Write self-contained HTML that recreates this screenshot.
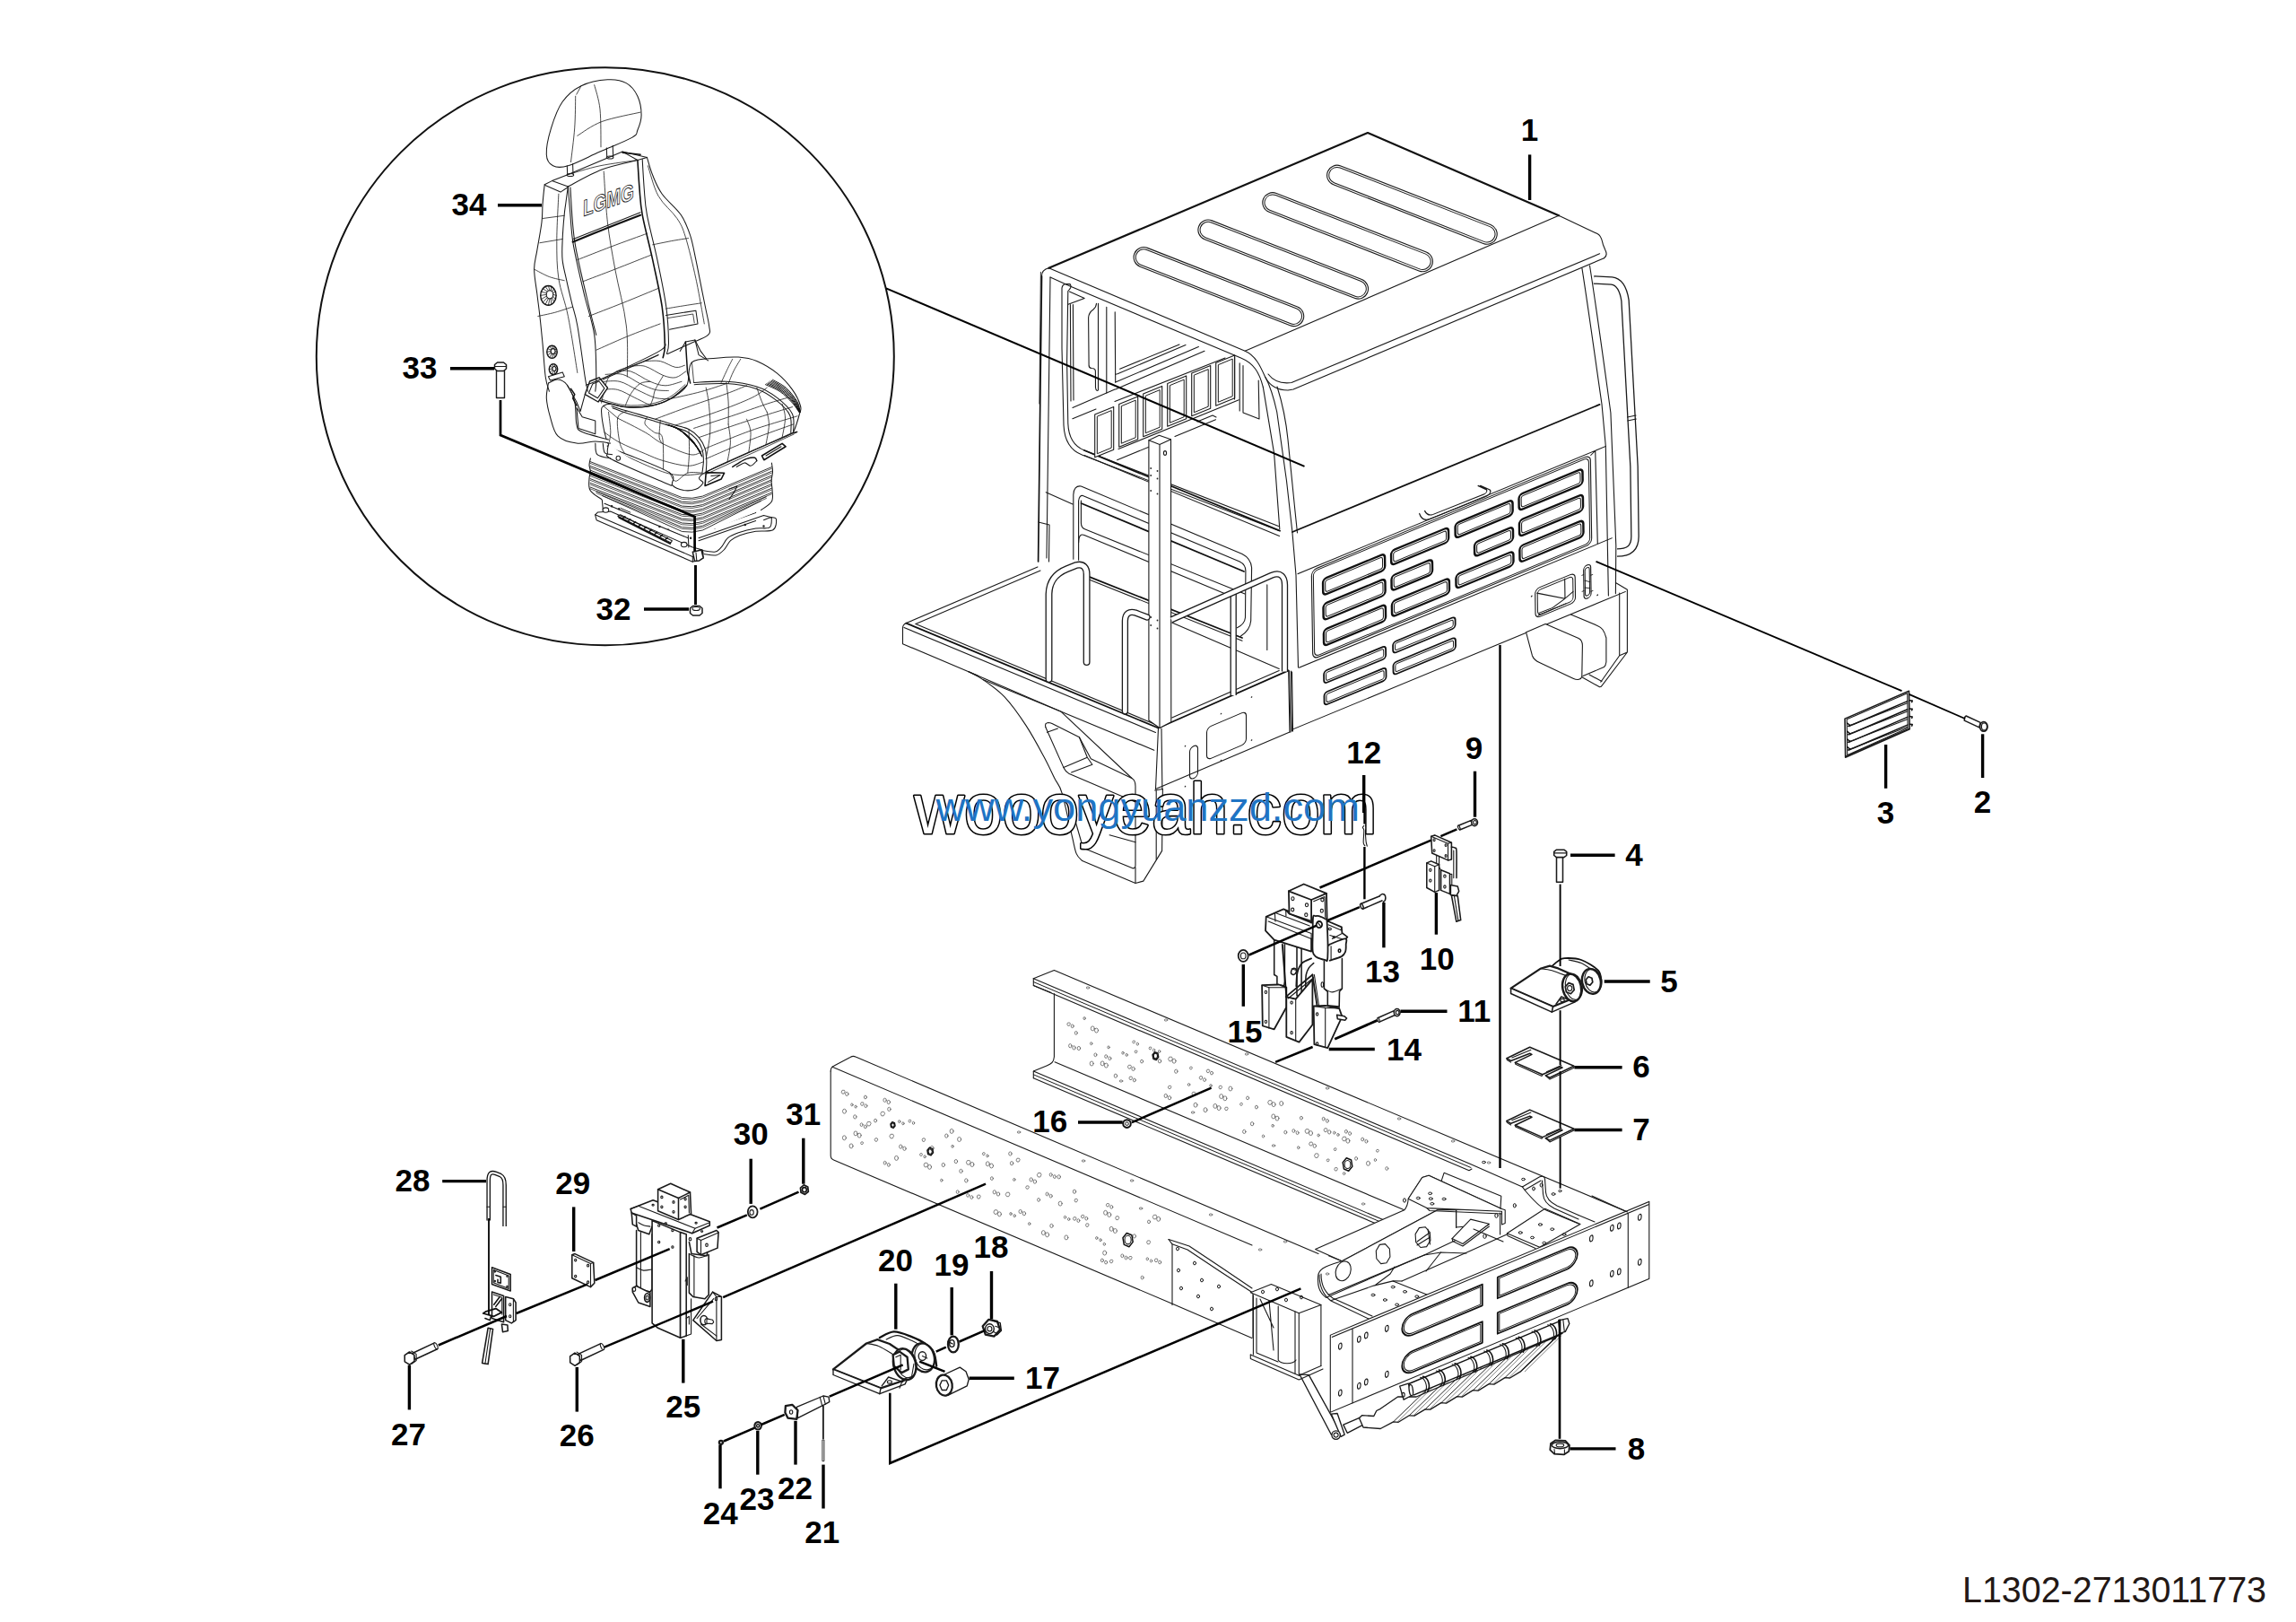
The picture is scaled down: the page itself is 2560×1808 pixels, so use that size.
<!DOCTYPE html>
<html><head><meta charset="utf-8"><title>L1302-2713011773</title>
<style>
html,body{margin:0;padding:0;background:#fff;}
body{width:2560px;height:1808px;overflow:hidden;font-family:"Liberation Sans",sans-serif;}
svg{display:block;position:absolute;left:0;top:0;}
.t{fill:none;stroke:#1a1a1a;stroke-width:1.1;stroke-linecap:round;stroke-linejoin:round;}
.m{fill:none;stroke:#111;stroke-width:1.8;stroke-linecap:round;stroke-linejoin:round;}
.k{fill:none;stroke:#000;stroke-width:3.4;stroke-linecap:butt;stroke-linejoin:miter;}
.w{fill:#fff;stroke:#1a1a1a;stroke-width:1.1;stroke-linecap:round;stroke-linejoin:round;}
.wm{fill:#fff;stroke:#111;stroke-width:1.8;stroke-linecap:round;stroke-linejoin:round;}
.n{font-family:"Liberation Sans",sans-serif;font-weight:700;font-size:35px;fill:#000;text-anchor:middle;}
</style></head><body>
<svg width="2560" height="1808" viewBox="0 0 2560 1808">
<rect x="0" y="0" width="2560" height="1808" fill="#fff"/>
<g id="platform">
<path class="t" d="M1010.4 694.6 L1156.9 631.9"/>
<path class="t" d="M1021 695.5 L1160 636"/>
<path class="m" d="M1010.4 694.6 L1291.5 811.5"/>
<path class="t" d="M1021 695.5 L1287 807"/>
<path class="t" d="M1008 699.5 L1288.5 816.5"/>
<path class="t" d="M1010.4 694.6 C1007 696,1006.5 698,1006.5 700.5 L1006.5 717.7 L1090 753"/>
<path class="m" d="M1291.5 811.5 L1436.7 747.4"/>
<path class="t" d="M1306.7 800 L1426.2 747.4"/>
<path class="t" d="M1291.5 811.5 L1288.5 879.6 M1295 812 L1295.9 879.6"/>
<path class="t" d="M1288.5 879.6 L1438 816"/>
<path class="t" d="M1436.7 747.4 L1438 816 M1439.6 748 L1440.5 815"/>
<g transform="matrix(1 -0.428 0 1 1291.5 811.5)">
<rect class="t" x="35" y="37" width="9" height="36" rx="4.5"/>
<rect class="t" x="54" y="23" width="44" height="36" rx="5"/>
<circle cx="30" cy="33" r="0.8" fill="#222"/>
<circle cx="30" cy="78" r="0.8" fill="#222"/>
<circle cx="70" cy="14" r="0.8" fill="#222"/>
<circle cx="104" cy="10" r="0.8" fill="#222"/>
<circle cx="104" cy="58" r="0.8" fill="#222"/>
<circle cx="70" cy="66" r="0.8" fill="#222"/>
</g>
<path class="t" d="M1080.0 748.8 C1082.7 750.3,1089.3 752.9,1096.0 757.6 C1102.7 762.3,1112.1 768.4,1120.1 776.9 C1128.1 785.4,1136.9 797.9,1144.1 808.9 C1151.3 819.9,1158.1 832.7,1163.4 842.6 C1168.8 852.5,1172.7 861.3,1176.2 868.3 C1179.7 875.2,1181.0 873.6,1184.2 884.3 C1187.4 895.0,1192.7 921.2,1195.4 932.4 C1198.1 943.6,1198.3 947.1,1200.2 951.6 C1202.1 956.1,1205.6 958.3,1206.7 959.6 L1266 984.5 L1274.8 982.1 L1295.6 948.4 L1296.4 879.5"/>
<path class="t" d="M1080 748.8 L1182.6 792.9 L1286.8 836.2"/>
<path class="t" d="M1096 757.6 L1182.6 792.9 L1262 867.5"/>
<path class="t" d="M1165.8 810.5 C1165 807,1166 806,1168.5 805.5 C1171 805.5,1172 806,1173 806.5 L1203.4 821.8 L1216.3 845.8 L1262 867.5 C1265 869,1266 872,1266 876.3 L1266 964.4 C1266 967,1264.5 968.3,1262.8 967.7 L1211.5 946.8 C1209 945.5,1207.5 944,1206.7 942"/>
<path class="t" d="M1165.8 810.5 L1185.8 855.4 C1187.5 859,1189.5 861,1192.2 862.6 L1266 893.9"/>
<path class="t" d="M1167.4 816.2 L1179.4 812.1 M1185.8 855.4 L1212.3 844.2 L1203.4 821.8 M1212.3 844.2 L1217.9 852.2 L1194.6 861"/>
<path class="t" d="M1266 938.8 L1237.1 930.8 M1206.7 942 L1196 905"/>
<path class="t" d="M1287.6 881 L1296.4 879.5 M1289.2 881 L1289.2 958 M1266 984.5 L1266 967"/>
</g>
<g id="cab">
<path class="m" style="stroke-width:2.2" d="M1169.4 298.8 L1525 148 L1738 240.3"/>
<path class="t" d="M1738 240.3 L1388.2 391.3 L1169.4 298.8"/>
<path class="t" d="M1738 240.3 L1781 260.6 C1786 263,1786 268,1787.5 273 L1790 279 C1792 283,1791 286,1788.5 287.7"/>
<path class="t" d="M1388.2 391.3 C1401 397,1406 410,1411 421 C1416 430,1425 435,1436 435 L1442 434 L1788.5 287.7"/>
<path class="t" d="M1414 417 C1420 425,1428 428,1440 426.5 L1783.6 282.8"/>
<path class="t" d="M1169.4 298.8 C1164 300,1161.5 303,1161.5 308"/>
<path class="t" d="M1171 309 L1192.5 318.8 L1383.6 399 C1398 405,1404 415,1408.3 431.3"/>
<g transform="translate(1358.9 319.6) rotate(21.42)"><rect class="t" x="-101.0" y="-11.2" width="202" height="22.4" rx="11.2"/><rect class="t" style="stroke-width:1" x="-98.8" y="-9.0" width="197.6" height="18.0" rx="9.0"/></g>
<g transform="translate(1430.7 289.1) rotate(21.42)"><rect class="t" x="-101.0" y="-11.2" width="202" height="22.4" rx="11.2"/><rect class="t" style="stroke-width:1" x="-98.8" y="-9.0" width="197.6" height="18.0" rx="9.0"/></g>
<g transform="translate(1502.6 258.7) rotate(21.42)"><rect class="t" x="-101.0" y="-11.2" width="202" height="22.4" rx="11.2"/><rect class="t" style="stroke-width:1" x="-98.8" y="-9.0" width="197.6" height="18.0" rx="9.0"/></g>
<g transform="translate(1574.4 228.2) rotate(21.42)"><rect class="t" x="-101.0" y="-11.2" width="202" height="22.4" rx="11.2"/><rect class="t" style="stroke-width:1" x="-98.8" y="-9.0" width="197.6" height="18.0" rx="9.0"/></g>
<path class="m" style="stroke-width:1.7" d="M1161.5 308 L1157.6 626"/>
<path class="t" style="stroke-width:0.9" d="M1160.4 303.3 L1158.9 450"/>
<path class="t" d="M1171 309 L1167 622"/>
<path class="t" d="M1157.8 582 L1170 585 L1169.5 626"/>
<path class="t" d="M1192.9 316.6 L1187.5 316.6 C1185 317.5,1184.3 319,1184 321 L1184 388 L1186 474 C1187 495,1196 503,1206.4 507 L1426 591.5"/>
<path class="t" d="M1192.9 316.6 C1194.5 318.5,1194.5 320.5,1192.5 322.5 L1190.8 324.5 L1189.6 403 L1190.8 472 C1191.5 490,1199 498,1209 502 L1425.5 586.5"/>
<path class="t" d="M1408.3 431.3 L1420.6 505.3 L1426.8 589.8"/>
<path class="t" d="M1411 420.6 C1417 432,1421 447,1423.7 459 L1434.5 536 L1440.8 592 L1445 641 L1447.5 744"/>
<path class="t" d="M1424 431 C1430 450,1434 470,1436 490 L1443.7 567 L1446.5 594"/>
<path class="m" d="M1441 593 L1783.5 450.9"/>
<path class="t" d="M1763.9 298.8 C1772 350,1780 410,1786 450.5 L1790.3 497 L1793.4 664"/>
<path class="t" d="M1772.5 296 C1781 350,1789 410,1795.9 460 L1801.8 608 L1801.4 661.6"/>
<g transform="matrix(1 -0.414 0.015 1 1443 592)">
<path class="t" d="M3.3 49 L346.5 49 M3.3 153.5 L352 153.5 M330 52 L335 49 M335 49 L336 153.5"/>
<rect class="t"  x="18.5" y="51.5" width="311.0" height="99.0" rx="6"/>
<rect class="t" style="stroke-width:1" x="20.5" y="53.5" width="307.0" height="95.0" rx="5"/>
<rect class="m" style="stroke-width:2.4" x="31" y="66.5" width="69.0" height="18.0" rx="4"/>
<rect class="t" style="stroke-width:1" x="33.6" y="69.1" width="63.8" height="12.8" rx="2.5"/>
<rect class="m" style="stroke-width:2.4" x="31" y="94.3" width="69.0" height="18.1" rx="4"/>
<rect class="t" style="stroke-width:1" x="33.6" y="96.89999999999999" width="63.8" height="12.9" rx="2.5"/>
<rect class="m" style="stroke-width:2.4" x="31" y="123" width="69.0" height="18.0" rx="4"/>
<rect class="t" style="stroke-width:1" x="33.6" y="125.6" width="63.8" height="12.8" rx="2.5"/>
<rect class="m" style="stroke-width:2.4" x="107" y="66.5" width="64.0" height="16.0" rx="4"/>
<rect class="t" style="stroke-width:1" x="109.6" y="69.1" width="58.8" height="10.8" rx="2.5"/>
<rect class="m" style="stroke-width:2.4" x="107" y="94.3" width="45.5" height="16.7" rx="4"/>
<rect class="t" style="stroke-width:1" x="109.6" y="96.89999999999999" width="40.3" height="11.5" rx="2.5"/>
<rect class="m" style="stroke-width:2.4" x="107" y="123" width="64.0" height="17.0" rx="4"/>
<rect class="t" style="stroke-width:1" x="109.6" y="125.6" width="58.8" height="11.8" rx="2.5"/>
<rect class="m" style="stroke-width:2.4" x="178.5" y="65.5" width="64.0" height="16.5" rx="4"/>
<rect class="t" style="stroke-width:1" x="181.1" y="68.1" width="58.8" height="11.3" rx="2.5"/>
<rect class="m" style="stroke-width:2.4" x="199.5" y="95.5" width="43.0" height="15.7" rx="4"/>
<rect class="t" style="stroke-width:1" x="202.1" y="98.1" width="37.8" height="10.5" rx="2.5"/>
<rect class="m" style="stroke-width:2.4" x="178.5" y="122.6" width="64.0" height="15.6" rx="4"/>
<rect class="t" style="stroke-width:1" x="181.1" y="125.19999999999999" width="58.8" height="10.4" rx="2.5"/>
<rect class="m" style="stroke-width:2.4" x="249.5" y="63" width="71.0" height="17.5" rx="4"/>
<rect class="t" style="stroke-width:1" x="252.1" y="65.6" width="65.8" height="12.3" rx="2.5"/>
<rect class="m" style="stroke-width:2.4" x="249.5" y="91.5" width="71.0" height="18.0" rx="4"/>
<rect class="t" style="stroke-width:1" x="252.1" y="94.1" width="65.8" height="12.8" rx="2.5"/>
<rect class="m" style="stroke-width:2.4" x="249.5" y="120.3" width="71.0" height="18.0" rx="4"/>
<rect class="t" style="stroke-width:1" x="252.1" y="122.89999999999999" width="65.8" height="12.8" rx="2.5"/>
<rect class="m" style="stroke-width:1.8" x="30.5" y="169" width="69.0" height="13.8" rx="3.5"/>
<rect class="t" style="stroke-width:1" x="32.9" y="171.4" width="64.2" height="9.0" rx="2"/>
<rect class="m" style="stroke-width:1.8" x="30.5" y="193" width="69.0" height="14.0" rx="3.5"/>
<rect class="t" style="stroke-width:1" x="32.9" y="195.4" width="64.2" height="9.2" rx="2"/>
<rect class="m" style="stroke-width:1.8" x="107.5" y="168.5" width="69.5" height="12.5" rx="3.5"/>
<rect class="t" style="stroke-width:1" x="109.9" y="170.9" width="64.7" height="7.7" rx="2"/>
<rect class="m" style="stroke-width:1.8" x="107.5" y="191.5" width="69.5" height="13.5" rx="3.5"/>
<rect class="t" style="stroke-width:1" x="109.9" y="193.9" width="64.7" height="8.7" rx="2"/>
<rect class="t"  x="266" y="175" width="44.5" height="32.5" rx="5"/>
<rect class="t" style="stroke-width:1" x="268.5" y="177.5" width="39.5" height="27.5" rx="4"/>
<path class="t" d="M268 180 L299 199 M299 177 L299 199 L308 195 M270 203 L285 203.5 L299 199 M269 205.5 L300 205"/>
<rect class="t"  x="320" y="172" width="8.0" height="37.0" rx="4"/>
<rect class="t" style="stroke-width:1" x="321.5" y="175" width="5.0" height="31.0" rx="2.5"/>
<path class="t" style="stroke-width:0.9" d="M321 188 L327 192 M321 196 L327 199"/>
<circle cx="262" cy="181" r="0.9" fill="#222"/>
<circle cx="262" cy="221" r="0.9" fill="#222"/>
<circle cx="335" cy="210" r="0.9" fill="#222"/>
<path class="t" d="M-5 219 L366 219"/>
<path class="t" d="M139 38 C141 45,145 48.5,150 48.7 L212 49.8 C217 49.8,219.5 47,217.5 44 L207 35 M145 37.5 C147 42,150 45,154 45.2 L211 46.2 C214 46.2,215 44,213.5 42 L204.5 34"/>
<path class="t" style="stroke-width:0.9" d="M320 181 L318 181 M320 199 L318 199 M328 185 L330 185 M328 203 L330 203"/>
</g>
<path class="t" d="M1437.6 748 L1439 816 M1440.5 749 L1441.5 815"/>
<path class="t" d="M1801.4 649.5 L1814.4 657.3 L1814.4 727 L1785.4 765.2 L1783.5 765.8 L1763.8 754.7 M1805.7 661 L1805.7 730.7 L1784.8 760.2 M1805.7 730.7 L1814.4 727 M1772 752 L1786 759.5"/>
<path d="M1751.5 685.1 L1781.1 697.4 C1786 699.5,1788.5 702.3,1790.9 711 L1790.9 738 C1790.5 741,1790 742.5,1788.5 743.6 L1765 753.5 L1760 712 Z" fill="#fff" stroke="none"/>
<path class="t" d="M1751.5 685.1 L1781.1 697.4 C1786 699.5,1788.5 702.3,1790.9 711 L1790.9 738 C1790.5 741,1790 742.5,1788.5 743.6 L1765 753.5"/>
<path class="w" d="M1701.6 704.8 L1708.4 730.7 C1710 735,1713 737,1717 738.7 L1754 756.2 C1759 758.5,1763 757.5,1763.8 754.1 L1764.4 719.6 C1764.3 715,1763 713,1760.1 711.6 L1723.1 695.5 Z"/>
<path d="M1777 312 L1797 313 C1806 314,1810 322,1812 335 L1822 520 L1823 598 C1823 612,1815 616,1803 616" fill="none" stroke="#1a1a1a" stroke-width="9.6" stroke-linecap="butt" stroke-linejoin="round"/>
<path d="M1777 312 L1797 313 C1806 314,1810 322,1812 335 L1822 520 L1823 598 C1823 612,1815 616,1803 616" fill="none" stroke="#fff" stroke-width="7" stroke-linecap="butt" stroke-linejoin="round"/>
<path class="t" d="M1814.5 465 L1824 463 M1814.8 469 L1824.3 467"/>
</g>
<g id="cabfront">
<path class="t" d="M1196.8 623.2 L1196.8 551.5 C1197 545,1200 541,1205.4 542 L1385 617.5 C1392 621,1395 626,1395.6 632.8 L1394.7 692 C1394 700,1390 705,1383.2 709.2"/>
<path class="t" d="M1202.6 624.2 L1202.6 558.2 C1203 554,1205 552,1207.3 552.5 L1382.2 626 C1387 628.5,1389 632,1388.9 636.6 L1388.5 688.2 C1388 694,1385 697,1379.4 699.7"/>
<path class="m" d="M1205.5 561 L1387 637"/>
<path class="t" d="M1205.4 558 L1205.4 583 C1205.5 587,1207 589,1210 590 L1388 662"/>
<path class="t" d="M1202.6 605 C1202.8 597,1205 595,1209 596.5 L1376 666"/>
<path class="t" d="M1166.2 548.7 L1196 562"/>
<path class="m" d="M1209 502 L1427 591.7"/>
<path class="t" d="M1209 507.5 L1426.5 597.5"/>
<path class="m" d="M1213 642.3 L1385 711"/>
<path class="t" d="M1213 645.5 L1385 714.2"/>
<path class="t" d="M1306.7 694 L1426.2 745.5"/>
<path class="t" d="M1412.8 651.9 L1412.8 724.5"/>
</g>
<g id="cab2">
<path class="t" d="M1193.4 339.5 L1194 447 M1196.4 339.5 L1197 446"/>
<path class="t" d="M1192.4 325 L1209.2 332.4 L1191 339.3"/>
<path class="t" d="M1222.5 338.3 C1222.3 342,1221.5 343,1219 345 C1215.5 347.5,1213.8 350,1213.6 354.1 L1214.1 407.4 C1214.2 409.5,1215 410.2,1217 410.5 L1219 410.7 C1221 411,1221.4 412,1221.4 414 L1221.5 432 C1221.6 434,1222.3 435,1223.5 435.5"/>
<path class="t" d="M1224.5 338.3 L1224.5 435 M1233.8 342.3 L1233.8 438 M1243.2 347.7 L1243.7 426.1"/>
<path class="t" d="M1243.7 426.1 L1336.4 386.5 M1243.7 417.2 L1246 416.8 L1322 384.5 M1248.6 411.3 L1315 384"/>
<path class="t" d="M1195.9 454.4 L1243 434 M1195.9 466.8 L1222 456 M1243 447.5 L1366 399 M1243.7 434 L1343 391.3"/>
<path class="w" d="M1220.7 462.0 L1241.7 453.4 L1241.7 501.2 L1220.7 509.8 Z"/>
<path class="t" style="stroke-width:1" d="M1223.7 464.0 L1239.2 457.6 L1239.2 499.2 L1223.7 505.6 Z"/>
<path class="w" d="M1247.7 450.5 L1268.7 441.9 L1268.7 489.7 L1247.7 498.3 Z"/>
<path class="t" style="stroke-width:1" d="M1250.7 452.5 L1266.2 446.1 L1266.2 487.7 L1250.7 494.1 Z"/>
<path class="w" d="M1274.7 439.0 L1295.7 430.4 L1295.7 478.2 L1274.7 486.8 Z"/>
<path class="t" style="stroke-width:1" d="M1277.7 441.0 L1293.2 434.6 L1293.2 476.2 L1277.7 482.6 Z"/>
<path class="w" d="M1301.7 427.5 L1322.7 418.9 L1322.7 466.7 L1301.7 475.3 Z"/>
<path class="t" style="stroke-width:1" d="M1304.7 429.5 L1320.2 423.1 L1320.2 464.7 L1304.7 471.1 Z"/>
<path class="w" d="M1328.7 416.0 L1349.7 407.4 L1349.7 455.2 L1328.7 463.8 Z"/>
<path class="t" style="stroke-width:1" d="M1331.7 418.0 L1347.2 411.6 L1347.2 453.2 L1331.7 459.6 Z"/>
<path class="w" d="M1355.7 404.5 L1376.7 395.9 L1376.7 443.7 L1355.7 452.3 Z"/>
<path class="t" style="stroke-width:1" d="M1358.7 406.5 L1374.2 400.1 L1374.2 441.7 L1358.7 448.1 Z"/>
<path class="t" d="M1247 500.5 L1381.3 445.8 M1245.6 512.7 L1290 494.6 M1310 486.5 L1355.5 467.7 M1335 470 L1352 463 L1356 465"/>
<path class="t" d="M1376.5 398 L1376.5 445 M1382.2 404.7 L1382.2 458 M1386 407.5 L1386 460 L1404 467 M1403.2 424 L1404 467"/>
<path class="w" d="M1280.9 490.7 L1292.4 485.3 L1305.5 489.7 L1305.8 804.8 L1293 811.5 L1280.9 803 Z"/>
<path class="t" d="M1280.9 490.7 L1293 495.5 L1305.5 489.7 M1293 495.5 L1293 811.5"/>
<ellipse class="t" cx="1299" cy="505" rx="1.6" ry="2.4"/>
<circle cx="1283.2" cy="522" r="0.9" fill="#222"/>
<circle cx="1290.5" cy="525" r="0.9" fill="#222"/>
<circle cx="1283.2" cy="530" r="0.9" fill="#222"/>
<circle cx="1290.5" cy="533.5" r="0.9" fill="#222"/>
<circle cx="1283.2" cy="547" r="0.9" fill="#222"/>
<circle cx="1290.5" cy="550.5" r="0.9" fill="#222"/>
<circle cx="1283.2" cy="688" r="0.9" fill="#222"/>
<circle cx="1290.5" cy="691.5" r="0.9" fill="#222"/>
<circle cx="1283.2" cy="697" r="0.9" fill="#222"/>
<circle cx="1290.5" cy="700.5" r="0.9" fill="#222"/>
</g>
<g id="rails">
<path d="M1169.5 757 L1169.5 662 C1170 645,1180 638,1190 634 L1200 630 C1208 628,1211.6 633,1211.6 640 L1211.6 738" fill="none" stroke="#1a1a1a" stroke-width="7.8999999999999995" stroke-linecap="round" stroke-linejoin="round"/>
<path d="M1169.5 757 L1169.5 662 C1170 645,1180 638,1190 634 L1200 630 C1208 628,1211.6 633,1211.6 640 L1211.6 738" fill="none" stroke="#fff" stroke-width="5.3" stroke-linecap="round" stroke-linejoin="round"/>
<path d="M1254.4 793 L1254.4 692 C1254.5 684,1259 681,1266 683 L1279 688" fill="none" stroke="#1a1a1a" stroke-width="7.3" stroke-linecap="round" stroke-linejoin="round"/>
<path d="M1254.4 793 L1254.4 692 C1254.5 684,1259 681,1266 683 L1279 688" fill="none" stroke="#fff" stroke-width="4.7" stroke-linecap="round" stroke-linejoin="round"/>
</g>
<g id="rails3">
<path d="M1375.2 660 L1375.2 775" fill="none" stroke="#1a1a1a" stroke-width="7.3" stroke-linecap="butt" stroke-linejoin="round"/>
<path d="M1375.2 660 L1375.2 775" fill="none" stroke="#fff" stroke-width="4.7" stroke-linecap="butt" stroke-linejoin="round"/>
<path d="M1306 690.8 L1417.6 641.4 C1428 637,1432.5 643,1432.5 652 L1432.5 748.5" fill="none" stroke="#1a1a1a" stroke-width="7.3" stroke-linecap="butt" stroke-linejoin="round"/>
<path d="M1306 690.8 L1417.6 641.4 C1428 637,1432.5 643,1432.5 652 L1432.5 748.5" fill="none" stroke="#fff" stroke-width="4.7" stroke-linecap="butt" stroke-linejoin="round"/>
</g>
<g id="steps">
<path class="w" style="stroke-width:1.35" d="M1448.9 1531.8 L1459.3 1532.6 L1494.1 1595.5 L1484.4 1599.2 Z"/>
<path class="w" style="stroke-width:1.35" d="M1484.4 1576.2 L1491.1 1575.5 L1499.2 1599.2 L1495.1 1601.4 Z"/>
<ellipse class="w" style="stroke-width:1.35" cx="1489.6" cy="1599.6" rx="4.7" ry="4.7" transform="rotate(0 1489.6 1599.6)"/>
<ellipse class="t"  cx="1489.6" cy="1599.6" rx="2.5" ry="2.5" transform="rotate(0 1489.6 1599.6)"/>
<path class="w" style="stroke-width:1.35" d="M1497.8 1588.1 L1517.0 1579.9 L1522.9 1586.6 L1502.2 1597.3 Z"/>
<ellipse class="w" style="stroke-width:1.35" cx="1520.3" cy="1583.6" rx="2.7" ry="4.1" transform="rotate(-20 1520.3 1583.6)"/>
<path class="w" style="stroke-width:1.35" d="M1515.5 1580.7 L1520.0 1591.0 L1539.2 1592.5 L1553.6 1584.8 L1559.2 1585.3 L1571.3 1577.8 L1577.0 1578.2 L1589.1 1570.8 L1594.7 1571.2 L1606.9 1563.7 L1612.5 1564.2 L1624.7 1556.7 L1630.3 1557.1 L1642.4 1549.7 L1648.1 1550.1 L1660.2 1542.6 L1665.8 1543.1 L1678.0 1535.6 L1683.6 1536.0 L1695.7 1528.6 L1737.6 1488.1 L1737.6 1488.9 L1579.2 1557.0 L1558.5 1557.0 L1539.2 1570.3 L1534.8 1572.5 L1531.8 1578.5 L1518.5 1577.7 Z"/>
<path class="t" style="stroke-width:0.95" d="M1595.5 1544.4 L1553.6 1584.8"/>
<path class="t" style="stroke-width:0.7;stroke:#555" d="M1598.7 1545.0 L1558.0 1585.1"/>
<path class="t" style="stroke-width:0.95" d="M1613.3 1537.4 L1571.3 1577.8"/>
<path class="t" style="stroke-width:0.7;stroke:#555" d="M1616.5 1538.0 L1575.8 1578.1"/>
<path class="t" style="stroke-width:0.95" d="M1631.0 1530.3 L1589.1 1570.8"/>
<path class="t" style="stroke-width:0.7;stroke:#555" d="M1634.3 1530.9 L1593.6 1571.1"/>
<path class="t" style="stroke-width:0.95" d="M1648.8 1523.3 L1606.9 1563.7"/>
<path class="t" style="stroke-width:0.7;stroke:#555" d="M1652.1 1523.9 L1611.3 1564.0"/>
<path class="t" style="stroke-width:0.95" d="M1666.6 1516.3 L1624.7 1556.7"/>
<path class="t" style="stroke-width:0.7;stroke:#555" d="M1669.8 1516.9 L1629.1 1557.0"/>
<path class="t" style="stroke-width:0.95" d="M1684.3 1509.2 L1642.4 1549.7"/>
<path class="t" style="stroke-width:0.7;stroke:#555" d="M1687.6 1509.8 L1646.9 1550.0"/>
<path class="t" style="stroke-width:0.95" d="M1702.1 1502.2 L1660.2 1542.6"/>
<path class="t" style="stroke-width:0.7;stroke:#555" d="M1705.4 1502.8 L1664.6 1542.9"/>
<path class="t" style="stroke-width:0.95" d="M1719.9 1495.2 L1678.0 1535.6"/>
<path class="t" style="stroke-width:0.7;stroke:#555" d="M1723.1 1495.8 L1682.4 1535.9"/>
<path class="t" style="stroke-width:0.95" d="M1737.6 1488.1 L1695.7 1528.6"/>
<path class="t" style="stroke-width:0.7;stroke:#555" d="M1740.9 1488.7 L1700.2 1528.8"/>
<path d="M1573.3 1548.8 L1739.9 1479.7" fill="none" stroke="#111" stroke-width="15" stroke-linecap="butt"/>
<path d="M1573.3 1548.8 L1739.9 1479.7" fill="none" stroke="#fff" stroke-width="12.2" stroke-linecap="butt"/>
<path class="m" style="stroke-width:1.6" d="M1586.6 1534.3 C1592.6 1535.6,1595.6 1545.6,1591.6 1551.2"/>
<path class="t" d="M1583.6 1535.3 C1589.6 1536.6,1592.6 1546.6,1588.6 1552.2"/>
<path class="m" style="stroke-width:1.6" d="M1604.4 1527.0 C1610.4 1528.3,1613.4 1538.3,1609.4 1543.9"/>
<path class="t" d="M1601.4 1528.0 C1607.4 1529.3,1610.4 1539.3,1606.4 1544.9"/>
<path class="m" style="stroke-width:1.6" d="M1622.1 1519.7 C1628.1 1521.0,1631.1 1531.0,1627.1 1536.6"/>
<path class="t" d="M1619.1 1520.7 C1625.1 1522.0,1628.1 1532.0,1624.1 1537.6"/>
<path class="m" style="stroke-width:1.6" d="M1639.9 1512.3 C1645.9 1513.6,1648.9 1523.6,1644.9 1529.2"/>
<path class="t" d="M1636.9 1513.3 C1642.9 1514.6,1645.9 1524.6,1641.9 1530.2"/>
<path class="m" style="stroke-width:1.6" d="M1657.7 1505.0 C1663.7 1506.3,1666.7 1516.3,1662.7 1521.9"/>
<path class="t" d="M1654.7 1506.0 C1660.7 1507.3,1663.7 1517.3,1659.7 1522.9"/>
<path class="m" style="stroke-width:1.6" d="M1675.4 1497.7 C1681.4 1499.0,1684.4 1509.0,1680.4 1514.6"/>
<path class="t" d="M1672.4 1498.7 C1678.4 1500.0,1681.4 1510.0,1677.4 1515.6"/>
<path class="m" style="stroke-width:1.6" d="M1693.2 1490.3 C1699.2 1491.6,1702.2 1501.6,1698.2 1507.2"/>
<path class="t" d="M1690.2 1491.3 C1696.2 1492.6,1699.2 1502.6,1695.2 1508.2"/>
<path class="m" style="stroke-width:1.6" d="M1711.0 1483.0 C1717.0 1484.3,1720.0 1494.3,1716.0 1499.9"/>
<path class="t" d="M1708.0 1484.0 C1714.0 1485.3,1717.0 1495.3,1713.0 1500.9"/>
<path class="m" style="stroke-width:1.6" d="M1728.7 1475.7 C1734.7 1477.0,1737.7 1487.0,1733.7 1492.6"/>
<path class="t" d="M1725.7 1476.7 C1731.7 1478.0,1734.7 1488.0,1730.7 1493.6"/>
<path class="w" style="stroke-width:1.35" d="M1560.7 1545.1 L1570.3 1542.2 L1574.0 1555.5 L1565.1 1560.2 Z"/>
<ellipse class="t"  cx="1564.7" cy="1554.8" rx="1.5" ry="2.4" transform="rotate(0 1564.7 1554.8)"/>
<ellipse class="w" style="stroke-width:1.35" cx="1573.3" cy="1549.6" rx="2.1" ry="6.2" transform="rotate(-8 1573.3 1549.6)"/>
<path class="w" style="stroke-width:1.35" d="M1737.6 1471.8 L1748.0 1469.6 L1749.8 1475.5 L1745.3 1484.4 L1739.4 1486.2 Z"/>
<path class="t"  d="M1742.8 1470.8 L1744.3 1484.4"/>
</g>
<g id="frame">
<path class="t"  d="M1152.3 1090.8 L1175.4 1081.6 L1814.6 1351.0"/>
<path class="t"  d="M1152.3 1090.8 L1638.3 1297.1 L1697.4 1322.9"/>
<path class="t" style="stroke-width:1" d="M1152.3 1094.5 L1640.0 1301.5"/>
<path class="t"  d="M1152.3 1098.5 L1638.0 1304.7 L1641.0 1303.0"/>
<path class="t"  d="M1152.3 1090.8 L1152.3 1098.5 L1172.0 1106.5"/>
<path class="t" d="M1175.4 1107.5 L1175.4 1178 C1175 1184,1172 1186,1167 1188 L1152.3 1194.1 L1152.3 1201.8"/>
<path class="t"  d="M1152.3 1194.1 L1543.8 1360.3"/>
<path class="t" style="stroke-width:1" d="M1152.3 1197.8 L1542.0 1363.2"/>
<path class="t"  d="M1152.3 1201.8 L1540.7 1366.7"/>
<path class="t"  d="M1176.0 1183.8 L1565.8 1348.8"/>
<path class="t" d="M926.2 1194 C926.2 1191,927.5 1189,930 1188 L948 1178.5 C950 1177.3,952 1177,954 1178 L1470 1397.5"/>
<path class="t"  d="M928.0 1189.3 L1396.0 1388.0"/>
<path class="t" d="M926.2 1194 L926.2 1288 C926.2 1291,927 1292,929.5 1293 L1306.5 1453 L1395.9 1491.6"/>
<path class="t"  d="M1303.0 1381.5 L1307.0 1386.8 L1307.0 1454.6"/>
<path class="t"  d="M1303.0 1381.5 L1326.0 1389.0 L1362.0 1413.0 L1396.0 1436.0"/>
<path class="t"  d="M1307.0 1386.8 L1324.0 1393.0 L1360.0 1417.0 L1396.0 1440.5"/>
<path class="t"  d="M1397.0 1441.0 L1397.0 1491.0"/>
<path class="w"  d="M1394.3 1440.7 L1417.4 1431.5 L1472.9 1454.6 L1448.3 1463.8 Z"/>
<path class="t"  d="M1397.4 1443.8 L1397.4 1510.0"/>
<path class="t"  d="M1394.3 1510.0 L1448.3 1533.2 L1472.9 1522.4"/>
<path class="t"  d="M1394.3 1510.0 L1394.3 1514.5 L1448.3 1538.0 L1475.0 1526.0"/>
<path class="t"  d="M1448.3 1463.8 L1448.3 1533.2"/>
<path class="t"  d="M1444.0 1462.0 L1444.0 1531.0"/>
<path class="t"  d="M1472.9 1454.6 L1472.9 1522.4"/>
<path class="t" d="M1425.2 1456 L1425.2 1516 C1428 1521,1442 1521,1445 1516 M1415 1450 L1420 1505 M1405 1448 L1420 1480"/>
<path class="t"  d="M1401.0 1447.0 L1401.0 1508.0 L1425.0 1518.0"/>
<ellipse class="t" style="stroke-width:1" cx="1313" cy="1392" rx="1.5" ry="1.9"/>
<ellipse class="t" style="stroke-width:1" cx="1314" cy="1416" rx="1.5" ry="1.9"/>
<ellipse class="t" style="stroke-width:1" cx="1317" cy="1436" rx="1.5" ry="1.9"/>
<ellipse class="t" style="stroke-width:1" cx="1332" cy="1408" rx="1.5" ry="1.9"/>
<ellipse class="t" style="stroke-width:1" cx="1336" cy="1445" rx="1.5" ry="1.9"/>
<ellipse class="t" style="stroke-width:1" cx="1359" cy="1434" rx="1.5" ry="1.9"/>
<ellipse class="t" style="stroke-width:1" cx="1351" cy="1459" rx="1.5" ry="1.9"/>
<ellipse class="t" style="stroke-width:1" cx="1340" cy="1427" rx="1.5" ry="1.9"/>
<ellipse class="t" style="stroke-width:1" cx="1408" cy="1440" rx="1.5" ry="1.9"/>
<ellipse class="t" style="stroke-width:1" cx="1424" cy="1437" rx="1.5" ry="1.9"/>
<ellipse class="t" style="stroke-width:1" cx="1434" cy="1449" rx="1.5" ry="1.9"/>
<ellipse class="t" style="stroke-width:1" cx="1451" cy="1446" rx="1.5" ry="1.9"/>
<path class="w" d="M1466.6 1392.4 L1565.8 1348.8 C1569 1345,1570 1340,1570.2 1336.2 L1585.7 1312.5 L1593.1 1310.3 L1673.8 1347.3 L1602.7 1348.8 L1496.2 1405.7 Z"/>
<path class="w" d="M1496.2 1405.7 L1602.7 1348.8 L1623.6 1348.8 L1623.6 1368 L1660 1365 L1588 1399 L1478.5 1446.4 C1470 1440,1469 1432,1469.6 1422.7 C1470 1415,1475 1412,1496.2 1405.7 Z"/>
<path class="t" d="M1481.4 1399.8 L1496.2 1405.7 M1473 1420 C1473 1434,1478 1441,1486 1447 L1530 1467 M1471 1421 C1471 1436,1476 1444,1484 1450 L1526 1470"/>
<ellipse class="w" cx="1497.7" cy="1416.8" rx="8.2" ry="11.2" transform="rotate(20 1497.7 1416.8)"/>
<path class="w"  d="M1549.9 1401.0 L1545.9 1407.8 L1539.7 1408.6 L1534.8 1403.0 L1534.3 1394.2 L1538.3 1387.4 L1544.5 1386.6 L1549.4 1392.2 Z"/>
<path class="w"  d="M1594.9 1382.6 L1590.6 1389.6 L1583.9 1390.5 L1578.7 1384.7 L1578.1 1375.6 L1582.4 1368.6 L1589.1 1367.7 L1594.3 1373.5 Z"/>
<path class="t" d="M1580 1384 L1594 1374 M1580 1388 L1594.5 1379 M1592 1370 L1594.5 1387"/>
<path class="t"  d="M1481.0 1443.5 L1588.0 1399.0"/>
<path class="t"  d="M1534.0 1432.0 L1550.0 1420.0 L1555.0 1412.0"/>
<path class="t"  d="M1588.0 1399.0 L1606.5 1396.0 L1635.0 1397.0"/>
<path class="t"  d="M1606.5 1396.0 L1590.0 1417.0"/>
<path class="t"  d="M1563.0 1428.0 L1640.0 1394.0 L1680.0 1376.0"/>
<path class="w" d="M1570.2 1336.2 L1585.7 1312.5 L1593.1 1310.3 L1673.8 1347.3 L1678.2 1348.8 L1678.2 1363.6 L1674.5 1365 L1674.5 1350.2 L1590.9 1346.6 Z"/>
<path class="t"  d="M1590.9 1346.6 L1594.0 1349.5 L1674.5 1353.0"/>
<path class="t"  d="M1607.2 1316.2 L1610.1 1307.3 L1673.8 1333.2 L1673.0 1347.3"/>
<path class="t"  d="M1672.6 1352.0 L1672.6 1376.0"/>
<path class="t"  d="M1623.6 1349.0 L1623.6 1368.5"/>
<ellipse class="t" style="stroke-width:1" cx="1581.3" cy="1335.5" rx="2" ry="1.3"/>
<ellipse class="t" style="stroke-width:1" cx="1594.6" cy="1330.3" rx="2" ry="1.3"/>
<ellipse class="t" style="stroke-width:1" cx="1595.3" cy="1336.2" rx="2" ry="1.3"/>
<ellipse class="t" style="stroke-width:1" cx="1610.1" cy="1336.5" rx="2" ry="1.3"/>
<ellipse class="t" style="stroke-width:1" cx="1596.8" cy="1341.8" rx="2" ry="1.3"/>
<ellipse class="t" style="stroke-width:1" cx="1668.5" cy="1355" rx="1.7" ry="2.4"/>
<ellipse class="t" style="stroke-width:1" cx="1655.5" cy="1378" rx="1.7" ry="2.4"/>
<ellipse class="t" style="stroke-width:1" cx="1688.8" cy="1343.8" rx="1.5" ry="2.2"/>
<ellipse class="t" style="stroke-width:1" cx="1566" cy="1338" rx="1.5" ry="2.2"/>
<path class="w"  d="M1619.0 1380.6 L1639.7 1359.1 L1660.4 1364.3 L1630.9 1386.5 Z"/>
<path class="t"  d="M1619.0 1380.6 L1619.8 1383.5 L1630.9 1389.0 L1660.4 1367.0"/>
<path class="t"  d="M1643.0 1370.0 L1676.0 1384.0"/>
<path class="w"  d="M1680.4 1374.7 L1722.6 1347.3 L1762.0 1364.5 L1716.7 1390.2 Z"/>
<path class="t"  d="M1680.4 1374.7 L1681.0 1377.5 L1712.0 1391.5"/>
<ellipse class="t" style="stroke-width:1" cx="1695.2" cy="1374" rx="2" ry="1.3"/>
<ellipse class="t" style="stroke-width:1" cx="1708.5" cy="1379.5" rx="2" ry="1.3"/>
<ellipse class="t" style="stroke-width:1" cx="1717.4" cy="1365" rx="2" ry="1.3"/>
<ellipse class="t" style="stroke-width:1" cx="1730.7" cy="1370.2" rx="2" ry="1.3"/>
<ellipse class="t" style="stroke-width:1" cx="1721.8" cy="1385.5" rx="2" ry="1.3"/>
<ellipse class="t" style="stroke-width:1" cx="1744" cy="1376" rx="2" ry="1.3"/>
<path class="t"  d="M1484.4 1449.4 L1531.7 1433.1 L1553.2 1427.9 L1593.9 1444.2"/>
<path class="t"  d="M1553.2 1427.9 L1563.0 1428.0"/>
<ellipse class="t" style="stroke-width:1" cx="1553.2" cy="1434.6" rx="2" ry="1.3"/>
<ellipse class="t" style="stroke-width:1" cx="1566.5" cy="1439.8" rx="2" ry="1.3"/>
<ellipse class="t" style="stroke-width:1" cx="1531" cy="1443.5" rx="2" ry="1.3"/>
<ellipse class="t" style="stroke-width:1" cx="1544.3" cy="1449" rx="2" ry="1.3"/>
<ellipse class="t" style="stroke-width:1" cx="1579.8" cy="1445.2" rx="2" ry="1.3"/>
<ellipse class="t" style="stroke-width:1" cx="1557.6" cy="1454.3" rx="2" ry="1.3"/>
<path class="t" d="M1697.4 1322.9 L1716.7 1311.8 C1720 1310.5,1722 1311.5,1722.5 1314 L1723.5 1329 C1724 1336,1730 1341,1736 1344 L1760 1354.5"/>
<path class="t" d="M1697.4 1322.9 L1700 1326.5 L1718 1316 M1700 1326.5 C1708 1336,1716 1345,1724 1349 L1760 1364"/>
<path class="t" d="M1719.5 1316 L1720.5 1331 C1721 1339,1727 1344,1733 1347 L1760 1359"/>
<ellipse class="t" style="stroke-width:1" cx="1710" cy="1325" rx="1.4" ry="2"/>
<ellipse class="t" style="stroke-width:1" cx="1718.5" cy="1321" rx="1.4" ry="2"/>
<ellipse class="t" style="stroke-width:1" cx="1698.5" cy="1314.5" rx="2" ry="1.2"/>
<ellipse class="t" style="stroke-width:1" cx="1654.5" cy="1295.5" rx="2" ry="1.2"/>
<ellipse class="t" style="stroke-width:1" cx="1732" cy="1331" rx="2" ry="1.3"/>
<ellipse class="t" style="stroke-width:1" cx="1739.4" cy="1327.6" rx="1.6" ry="1.1"/>
<g transform="matrix(1 -0.4185 0 1 1483.3 1488.2)">
<rect class="w" x="0" y="0" width="355.5" height="86" />
<path class="t" d="M2 3 L355 3 M24.7 3 L24.7 86 M332 3 L332 86"/>
<path class="m" d="M169.5 14.5 L91.75 14.5 A11.75 11.75 0 0 0 91.75 38 L169.5 38 Z"/>
<path class="t" style="stroke-width:1" d="M167.5 16.5 L91.75 16.5 A9.75 9.75 0 0 0 91.75 36 L167.5 36 Z"/>
<path class="m" d="M169.5 56 L91.75 56 A11.75 11.75 0 0 0 91.75 79.5 L169.5 79.5 Z"/>
<path class="t" style="stroke-width:1" d="M167.5 58 L91.75 58 A9.75 9.75 0 0 0 91.75 77.5 L167.5 77.5 Z"/>
<path class="m" d="M186.5 13.5 L263.75 13.5 A11.75 11.75 0 0 1 263.75 37 L186.5 37 Z"/>
<path class="t" style="stroke-width:1" d="M188.5 15.5 L263.75 15.5 A9.75 9.75 0 0 1 263.75 35 L188.5 35 Z"/>
<path class="m" d="M186.5 53 L263.75 53 A11.75 11.75 0 0 1 263.75 76.5 L186.5 76.5 Z"/>
<path class="t" style="stroke-width:1" d="M188.5 55 L263.75 55 A9.75 9.75 0 0 1 263.75 74.5 L188.5 74.5 Z"/>
<ellipse class="t" cx="11" cy="17" rx="1.8" ry="3.3"/>
<ellipse class="t" cx="11" cy="69" rx="1.8" ry="3.3"/>
<ellipse class="t" cx="32" cy="18" rx="1.8" ry="3.3"/>
<ellipse class="t" cx="40" cy="17" rx="1.8" ry="3.3"/>
<ellipse class="t" cx="63" cy="19" rx="1.8" ry="3.3"/>
<ellipse class="t" cx="32" cy="70" rx="1.8" ry="3.3"/>
<ellipse class="t" cx="40" cy="69" rx="1.8" ry="3.3"/>
<ellipse class="t" cx="63" cy="70" rx="1.8" ry="3.3"/>
<ellipse class="t" cx="291" cy="14" rx="1.8" ry="3.3"/>
<ellipse class="t" cx="314" cy="12" rx="1.8" ry="3.3"/>
<ellipse class="t" cx="322" cy="13" rx="1.8" ry="3.3"/>
<ellipse class="t" cx="291" cy="64" rx="1.8" ry="3.3"/>
<ellipse class="t" cx="314" cy="63" rx="1.8" ry="3.3"/>
<ellipse class="t" cx="322" cy="64" rx="1.8" ry="3.3"/>
<ellipse class="t" cx="345" cy="13" rx="1.8" ry="3.3"/>
<ellipse class="t" cx="345" cy="63" rx="1.8" ry="3.3"/>
</g>
<path class="t"  d="M1760.0 1354.5 L1778.0 1362.0"/>
<path class="t"  d="M1775.0 1333.0 L1814.6 1351.0"/>
<ellipse class="t" style="stroke-width:0.75;stroke:#555" cx="1055.3" cy="1266.1" rx="1.7" ry="2.12"/>
<ellipse class="t" style="stroke-width:0.75;stroke:#555" cx="1171.7" cy="1309.4" rx="1.5" ry="1.88"/>
<ellipse class="t" style="stroke-width:0.75;stroke:#555" cx="1175.9" cy="1311.6" rx="1.5" ry="1.88"/>
<ellipse class="t" style="stroke-width:0.75;stroke:#555" cx="1130.8" cy="1314.9" rx="1.2" ry="1.50"/>
<ellipse class="t" style="stroke-width:0.75;stroke:#555" cx="960.6" cy="1253.7" rx="1.5" ry="1.88"/>
<ellipse class="t" style="stroke-width:0.75;stroke:#555" cx="964.8" cy="1255.9" rx="1.5" ry="1.88"/>
<ellipse class="t" style="stroke-width:0.75;stroke:#555" cx="953.3" cy="1244.9" rx="1.7" ry="2.12"/>
<ellipse class="t" style="stroke-width:0.75;stroke:#555" cx="964.9" cy="1223.0" rx="1.5" ry="1.88"/>
<path class="t" style="stroke-width:0.75;stroke:#555" d="M1093.1 1334.0 L1092.1 1336.0 L1090.2 1336.0 L1089.2 1334.0 L1090.2 1332.1 L1092.1 1332.1 Z"/>
<path class="t" style="stroke-width:0.75;stroke:#555" d="M986.4 1241.5 L985.2 1243.8 L982.9 1243.8 L981.8 1241.5 L982.9 1239.3 L985.2 1239.3 Z"/>
<ellipse class="t" style="stroke-width:0.75;stroke:#555" cx="1163.4" cy="1374.1" rx="2.0" ry="2.50"/>
<ellipse class="t" style="stroke-width:0.75;stroke:#555" cx="1167.6" cy="1376.3" rx="2.0" ry="2.50"/>
<path class="t" style="stroke-width:0.75;stroke:#555" d="M1147.2 1323.6 L1146.3 1325.2 L1144.6 1325.2 L1143.7 1323.6 L1144.6 1321.9 L1146.3 1321.9 Z"/>
<path class="t" style="stroke-width:0.75;stroke:#555" d="M1289.8 1356.6 L1288.7 1358.8 L1286.4 1358.8 L1285.2 1356.6 L1286.4 1354.3 L1288.7 1354.3 Z"/>
<ellipse class="t" style="stroke-width:0.75;stroke:#555" cx="1291.7" cy="1358.8" rx="2.0" ry="2.50"/>
<path class="t" style="stroke-width:0.75;stroke:#555" d="M1247.6 1357.7 L1246.6 1359.6 L1244.6 1359.6 L1243.7 1357.7 L1244.6 1355.8 L1246.6 1355.8 Z"/>
<ellipse class="t" style="stroke-width:0.75;stroke:#555" cx="991.4" cy="1236.4" rx="1.7" ry="2.12"/>
<ellipse class="t" style="stroke-width:0.75;stroke:#555" cx="1049.8" cy="1315.7" rx="1.2" ry="1.50"/>
<ellipse class="t" style="stroke-width:0.75;stroke:#555" cx="1004.3" cy="1278.1" rx="1.7" ry="2.12"/>
<ellipse class="t" style="stroke-width:0.75;stroke:#555" cx="1008.5" cy="1280.3" rx="1.7" ry="2.12"/>
<ellipse class="t" style="stroke-width:0.75;stroke:#555" cx="1167.5" cy="1331.0" rx="1.5" ry="1.88"/>
<ellipse class="t" style="stroke-width:0.75;stroke:#555" cx="1171.7" cy="1333.2" rx="1.5" ry="1.88"/>
<path class="t" style="stroke-width:0.75;stroke:#555" d="M1137.0 1293.1 L1136.0 1295.0 L1134.0 1295.0 L1133.0 1293.1 L1134.0 1291.2 L1136.0 1291.2 Z"/>
<path class="t" style="stroke-width:0.75;stroke:#555" d="M962.9 1230.5 L962.1 1232.2 L960.4 1232.2 L959.5 1230.5 L960.4 1228.8 L962.1 1228.8 Z"/>
<ellipse class="t" style="stroke-width:0.75;stroke:#555" cx="965.4" cy="1232.7" rx="1.5" ry="1.88"/>
<ellipse class="t" style="stroke-width:0.75;stroke:#555" cx="1182.2" cy="1341.6" rx="2.0" ry="2.50"/>
<ellipse class="t" style="stroke-width:0.75;stroke:#555" cx="1051.8" cy="1298.5" rx="1.7" ry="2.12"/>
<ellipse class="t" style="stroke-width:0.75;stroke:#555" cx="1101.3" cy="1297.3" rx="2.0" ry="2.50"/>
<ellipse class="t" style="stroke-width:0.75;stroke:#555" cx="1105.5" cy="1299.5" rx="2.0" ry="2.50"/>
<ellipse class="t" style="stroke-width:0.75;stroke:#555" cx="1222.8" cy="1380.0" rx="1.2" ry="1.50"/>
<ellipse class="t" style="stroke-width:0.75;stroke:#555" cx="1227.0" cy="1382.2" rx="1.2" ry="1.50"/>
<path class="t" style="stroke-width:0.75;stroke:#555" d="M1028.3 1287.1 L1027.6 1288.4 L1026.2 1288.4 L1025.5 1287.1 L1026.2 1285.7 L1027.6 1285.7 Z"/>
<ellipse class="t" style="stroke-width:0.75;stroke:#555" cx="1031.1" cy="1289.3" rx="1.2" ry="1.50"/>
<ellipse class="t" style="stroke-width:0.75;stroke:#555" cx="1127.0" cy="1353.0" rx="1.2" ry="1.50"/>
<ellipse class="t" style="stroke-width:0.75;stroke:#555" cx="1131.2" cy="1355.2" rx="1.2" ry="1.50"/>
<path class="t" style="stroke-width:0.75;stroke:#555" d="M1201.4 1338.1 L1200.5 1339.8 L1198.8 1339.8 L1198.0 1338.1 L1198.8 1336.4 L1200.5 1336.4 Z"/>
<path class="t" style="stroke-width:0.75;stroke:#555" d="M996.4 1266.5 L995.3 1268.8 L993.0 1268.8 L991.8 1266.5 L993.0 1264.3 L995.3 1264.3 Z"/>
<ellipse class="t" style="stroke-width:0.75;stroke:#555" cx="954.0" cy="1263.4" rx="2.0" ry="2.50"/>
<ellipse class="t" style="stroke-width:0.75;stroke:#555" cx="958.2" cy="1265.6" rx="2.0" ry="2.50"/>
<path class="t" style="stroke-width:0.75;stroke:#555" d="M1213.9 1365.6 L1213.0 1367.3 L1211.3 1367.3 L1210.5 1365.6 L1211.3 1363.9 L1213.0 1363.9 Z"/>
<ellipse class="t" style="stroke-width:0.75;stroke:#555" cx="1187.5" cy="1356.8" rx="1.2" ry="1.50"/>
<ellipse class="t" style="stroke-width:0.75;stroke:#555" cx="1191.7" cy="1359.0" rx="1.2" ry="1.50"/>
<path class="t" style="stroke-width:0.75;stroke:#555" d="M1240.8 1406.0 L1239.9 1407.7 L1238.2 1407.7 L1237.3 1406.0 L1238.2 1404.3 L1239.9 1404.3 Z"/>
<ellipse class="t" style="stroke-width:0.75;stroke:#555" cx="1108.8" cy="1328.8" rx="1.7" ry="2.12"/>
<ellipse class="t" style="stroke-width:0.75;stroke:#555" cx="1113.0" cy="1331.0" rx="1.7" ry="2.12"/>
<ellipse class="t" style="stroke-width:0.75;stroke:#555" cx="1232.6" cy="1351.8" rx="2.0" ry="2.50"/>
<ellipse class="t" style="stroke-width:0.75;stroke:#555" cx="1236.8" cy="1354.0" rx="2.0" ry="2.50"/>
<ellipse class="t" style="stroke-width:0.75;stroke:#555" cx="1077.3" cy="1315.9" rx="1.7" ry="2.12"/>
<path class="t" style="stroke-width:0.75;stroke:#555" d="M962.4 1274.2 L961.7 1275.6 L960.3 1275.6 L959.6 1274.2 L960.3 1272.9 L961.7 1272.9 Z"/>
<ellipse class="t" style="stroke-width:0.75;stroke:#555" cx="1079.2" cy="1332.4" rx="1.5" ry="1.88"/>
<ellipse class="t" style="stroke-width:0.75;stroke:#555" cx="1083.4" cy="1334.6" rx="1.5" ry="1.88"/>
<path class="t" style="stroke-width:0.75;stroke:#555" d="M971.0 1252.6 L969.8 1254.9 L967.5 1254.9 L966.4 1252.6 L967.5 1250.4 L969.8 1250.4 Z"/>
<ellipse class="t" style="stroke-width:0.75;stroke:#555" cx="1231.7" cy="1396.6" rx="2.0" ry="2.50"/>
<ellipse class="t" style="stroke-width:0.75;stroke:#555" cx="1039.1" cy="1279.9" rx="2.0" ry="2.50"/>
<ellipse class="t" style="stroke-width:0.75;stroke:#555" cx="1067.7" cy="1328.6" rx="1.5" ry="1.88"/>
<ellipse class="t" style="stroke-width:0.75;stroke:#555" cx="1281.0" cy="1361.9" rx="1.5" ry="1.88"/>
<ellipse class="t" style="stroke-width:0.75;stroke:#555" cx="1002.7" cy="1250.1" rx="1.2" ry="1.50"/>
<ellipse class="t" style="stroke-width:0.75;stroke:#555" cx="1006.9" cy="1252.3" rx="1.2" ry="1.50"/>
<ellipse class="t" style="stroke-width:0.75;stroke:#555" cx="1149.7" cy="1314.9" rx="1.7" ry="2.12"/>
<ellipse class="t" style="stroke-width:0.75;stroke:#555" cx="1153.9" cy="1317.1" rx="1.7" ry="2.12"/>
<ellipse class="t" style="stroke-width:0.75;stroke:#555" cx="941.5" cy="1238.7" rx="2.0" ry="2.50"/>
<ellipse class="t" style="stroke-width:0.75;stroke:#555" cx="1071.5" cy="1305.4" rx="1.7" ry="2.12"/>
<ellipse class="t" style="stroke-width:0.75;stroke:#555" cx="1279.3" cy="1403.3" rx="1.2" ry="1.50"/>
<ellipse class="t" style="stroke-width:0.75;stroke:#555" cx="1283.5" cy="1405.5" rx="1.2" ry="1.50"/>
<path class="t" style="stroke-width:0.75;stroke:#555" d="M1125.8 1331.5 L1124.7 1333.7 L1122.4 1333.7 L1121.2 1331.5 L1122.4 1329.2 L1124.7 1329.2 Z"/>
<ellipse class="t" style="stroke-width:0.75;stroke:#555" cx="1180.7" cy="1311.8" rx="1.7" ry="2.12"/>
<path class="t" style="stroke-width:0.75;stroke:#555" d="M1262.0 1402.2 L1261.1 1403.9 L1259.4 1403.9 L1258.5 1402.2 L1259.4 1400.5 L1261.1 1400.5 Z"/>
<ellipse class="t" style="stroke-width:0.75;stroke:#555" cx="1251.3" cy="1399.8" rx="1.5" ry="1.88"/>
<ellipse class="t" style="stroke-width:0.75;stroke:#555" cx="1255.5" cy="1402.0" rx="1.5" ry="1.88"/>
<path class="t" style="stroke-width:0.75;stroke:#555" d="M1082.0 1295.8 L1080.8 1298.1 L1078.5 1298.1 L1077.4 1295.8 L1078.5 1293.6 L1080.8 1293.6 Z"/>
<ellipse class="t" style="stroke-width:0.75;stroke:#555" cx="1083.9" cy="1298.0" rx="2.0" ry="2.50"/>
<path class="t" style="stroke-width:0.75;stroke:#555" d="M978.6 1270.5 L977.7 1272.2 L976.0 1272.2 L975.1 1270.5 L976.0 1268.8 L977.7 1268.8 Z"/>
<path class="t" style="stroke-width:0.75;stroke:#555" d="M1015.7 1249.6 L1015.0 1251.0 L1013.6 1251.0 L1012.9 1249.6 L1013.6 1248.3 L1015.0 1248.3 Z"/>
<ellipse class="t" style="stroke-width:0.75;stroke:#555" cx="1018.5" cy="1251.8" rx="1.2" ry="1.50"/>
<ellipse class="t" style="stroke-width:0.75;stroke:#555" cx="1061.1" cy="1260.9" rx="2.0" ry="2.50"/>
<path class="t" style="stroke-width:0.75;stroke:#555" d="M942.0 1217.2 L941.1 1219.1 L939.1 1219.1 L938.1 1217.2 L939.1 1215.3 L941.1 1215.3 Z"/>
<ellipse class="t" style="stroke-width:0.75;stroke:#555" cx="944.3" cy="1219.4" rx="1.7" ry="2.12"/>
<ellipse class="t" style="stroke-width:0.75;stroke:#555" cx="976.1" cy="1249.1" rx="1.5" ry="1.88"/>
<ellipse class="t" style="stroke-width:0.75;stroke:#555" cx="949.1" cy="1277.4" rx="2.0" ry="2.50"/>
<path class="t" style="stroke-width:0.75;stroke:#555" d="M1160.9 1309.8 L1159.8 1312.0 L1157.5 1312.0 L1156.3 1309.8 L1157.5 1307.5 L1159.8 1307.5 Z"/>
<path class="t" style="stroke-width:0.75;stroke:#555" d="M1031.5 1270.6 L1030.7 1272.3 L1028.9 1272.3 L1028.1 1270.6 L1028.9 1268.9 L1030.7 1268.9 Z"/>
<ellipse class="t" style="stroke-width:0.75;stroke:#555" cx="1069.6" cy="1270.0" rx="2.0" ry="2.50"/>
<ellipse class="t" style="stroke-width:0.75;stroke:#555" cx="1105.9" cy="1313.6" rx="1.5" ry="1.88"/>
<ellipse class="t" style="stroke-width:0.75;stroke:#555" cx="1062.0" cy="1277.8" rx="1.2" ry="1.50"/>
<path class="t" style="stroke-width:0.75;stroke:#555" d="M1236.8 1343.2 L1235.9 1344.9 L1234.2 1344.9 L1233.3 1343.2 L1234.2 1341.6 L1235.9 1341.6 Z"/>
<ellipse class="t" style="stroke-width:0.75;stroke:#555" cx="1239.3" cy="1345.4" rx="1.5" ry="1.88"/>
<ellipse class="t" style="stroke-width:0.75;stroke:#555" cx="1128.1" cy="1296.7" rx="1.7" ry="2.12"/>
<ellipse class="t" style="stroke-width:0.75;stroke:#555" cx="999.5" cy="1290.9" rx="2.0" ry="2.50"/>
<ellipse class="t" style="stroke-width:0.75;stroke:#555" cx="1228.9" cy="1404.9" rx="1.5" ry="1.88"/>
<ellipse class="t" style="stroke-width:0.75;stroke:#555" cx="1233.1" cy="1407.1" rx="1.5" ry="1.88"/>
<ellipse class="t" style="stroke-width:0.75;stroke:#555" cx="1231.3" cy="1386.8" rx="1.2" ry="1.50"/>
<ellipse class="t" style="stroke-width:0.75;stroke:#555" cx="949.9" cy="1231.4" rx="1.2" ry="1.50"/>
<ellipse class="t" style="stroke-width:0.75;stroke:#555" cx="954.1" cy="1233.6" rx="1.2" ry="1.50"/>
<path class="t" style="stroke-width:0.75;stroke:#555" d="M1034.6 1298.6 L1033.4 1300.8 L1031.1 1300.8 L1030.0 1298.6 L1031.1 1296.3 L1033.4 1296.3 Z"/>
<ellipse class="t" style="stroke-width:0.75;stroke:#555" cx="1036.5" cy="1300.8" rx="2.0" ry="2.50"/>
<path class="t" style="stroke-width:0.75;stroke:#555" d="M1282.5 1384.8 L1281.5 1386.7 L1279.5 1386.7 L1278.6 1384.8 L1279.5 1382.9 L1281.5 1382.9 Z"/>
<ellipse class="t" style="stroke-width:0.75;stroke:#555" cx="1273.6" cy="1424.1" rx="1.5" ry="1.88"/>
<ellipse class="t" style="stroke-width:0.75;stroke:#555" cx="1239.2" cy="1369.8" rx="2.0" ry="2.50"/>
<ellipse class="t" style="stroke-width:0.75;stroke:#555" cx="1243.4" cy="1372.0" rx="2.0" ry="2.50"/>
<ellipse class="t" style="stroke-width:0.75;stroke:#555" cx="1172.5" cy="1366.4" rx="1.7" ry="2.12"/>
<path class="t" style="stroke-width:0.75;stroke:#555" d="M1208.8 1356.0 L1207.9 1357.7 L1206.2 1357.7 L1205.3 1356.0 L1206.2 1354.4 L1207.9 1354.4 Z"/>
<ellipse class="t" style="stroke-width:0.75;stroke:#555" cx="1211.3" cy="1358.2" rx="1.5" ry="1.88"/>
<ellipse class="t" style="stroke-width:0.75;stroke:#555" cx="1198.0" cy="1328.2" rx="1.7" ry="2.12"/>
<path class="t" style="stroke-width:0.75;stroke:#555" d="M1290.7 1404.8 L1289.9 1406.5 L1288.1 1406.5 L1287.3 1404.8 L1288.1 1403.1 L1289.9 1403.1 Z"/>
<ellipse class="t" style="stroke-width:0.75;stroke:#555" cx="1293.2" cy="1407.0" rx="1.5" ry="1.88"/>
<ellipse class="t" style="stroke-width:0.75;stroke:#555" cx="986.6" cy="1226.3" rx="1.7" ry="2.12"/>
<ellipse class="t" style="stroke-width:0.75;stroke:#555" cx="990.8" cy="1228.5" rx="1.7" ry="2.12"/>
<ellipse class="t" style="stroke-width:0.75;stroke:#555" cx="986.7" cy="1296.2" rx="1.5" ry="1.88"/>
<ellipse class="t" style="stroke-width:0.75;stroke:#555" cx="990.9" cy="1298.4" rx="1.5" ry="1.88"/>
<ellipse class="t" style="stroke-width:0.75;stroke:#555" cx="1065.9" cy="1294.6" rx="1.7" ry="2.12"/>
<ellipse class="t" style="stroke-width:0.75;stroke:#555" cx="1147.7" cy="1364.1" rx="1.2" ry="1.50"/>
<ellipse class="t" style="stroke-width:0.75;stroke:#555" cx="1126.4" cy="1286.0" rx="1.7" ry="2.12"/>
<path class="t" style="stroke-width:0.75;stroke:#555" d="M1098.1 1286.2 L1097.4 1287.5 L1096.0 1287.5 L1095.3 1286.2 L1096.0 1284.8 L1097.4 1284.8 Z"/>
<ellipse class="t" style="stroke-width:0.75;stroke:#555" cx="1100.9" cy="1288.4" rx="1.2" ry="1.50"/>
<ellipse class="t" style="stroke-width:0.75;stroke:#555" cx="941.4" cy="1268.3" rx="2.0" ry="2.50"/>
<path class="t" style="stroke-width:0.75;stroke:#555" d="M1199.9 1358.4 L1199.0 1360.1 L1197.3 1360.1 L1196.4 1358.4 L1197.3 1356.7 L1199.0 1356.7 Z"/>
<ellipse class="t" style="stroke-width:0.75;stroke:#555" cx="1202.4" cy="1360.6" rx="1.5" ry="1.88"/>
<ellipse class="t" style="stroke-width:0.75;stroke:#555" cx="1137.7" cy="1350.5" rx="1.7" ry="2.12"/>
<ellipse class="t" style="stroke-width:0.75;stroke:#555" cx="1141.9" cy="1352.7" rx="1.7" ry="2.12"/>
<ellipse class="t" style="stroke-width:0.75;stroke:#555" cx="1264.8" cy="1377.9" rx="1.7" ry="2.12"/>
<ellipse class="t" style="stroke-width:0.75;stroke:#555" cx="1158.1" cy="1337.4" rx="1.5" ry="1.88"/>
<path class="t" style="stroke-width:0.75;stroke:#555" d="M1112.5 1351.1 L1111.3 1353.3 L1109.0 1353.3 L1107.9 1351.1 L1109.0 1348.8 L1111.3 1348.8 Z"/>
<ellipse class="t" style="stroke-width:0.75;stroke:#555" cx="1114.4" cy="1353.3" rx="2.0" ry="2.50"/>
<ellipse class="t" style="stroke-width:0.75;stroke:#555" cx="1188.9" cy="1379.4" rx="2.0" ry="2.50"/>
<path class="t" style="stroke-width:0.75;stroke:#555" d="M1459.6 1260.9 L1458.5 1263.2 L1456.2 1263.2 L1455.0 1260.9 L1456.2 1258.7 L1458.5 1258.7 Z"/>
<ellipse class="t" style="stroke-width:0.75;stroke:#555" cx="1461.5" cy="1263.1" rx="2.0" ry="2.50"/>
<path class="t" style="stroke-width:0.75;stroke:#555" d="M1329.2 1190.6 L1328.5 1191.9 L1327.1 1191.9 L1326.4 1190.6 L1327.1 1189.2 L1328.5 1189.2 Z"/>
<ellipse class="t" style="stroke-width:0.75;stroke:#555" cx="1311.3" cy="1194.2" rx="1.7" ry="2.12"/>
<path class="t" style="stroke-width:0.75;stroke:#555" d="M1537.2 1282.8 L1536.5 1284.1 L1535.1 1284.1 L1534.4 1282.8 L1535.1 1281.4 L1536.5 1281.4 Z"/>
<ellipse class="t" style="stroke-width:0.75;stroke:#555" cx="1193.3" cy="1165.7" rx="1.7" ry="2.12"/>
<ellipse class="t" style="stroke-width:0.75;stroke:#555" cx="1197.5" cy="1167.9" rx="1.7" ry="2.12"/>
<path class="t" style="stroke-width:0.75;stroke:#555" d="M1283.8 1168.4 L1283.1 1169.8 L1281.7 1169.8 L1281.1 1168.4 L1281.7 1167.1 L1283.1 1167.1 Z"/>
<ellipse class="t" style="stroke-width:0.75;stroke:#555" cx="1286.6" cy="1170.6" rx="1.2" ry="1.50"/>
<ellipse class="t" style="stroke-width:0.75;stroke:#555" cx="1333.0" cy="1231.7" rx="2.0" ry="2.50"/>
<ellipse class="t" style="stroke-width:0.75;stroke:#555" cx="1217.2" cy="1185.5" rx="2.0" ry="2.50"/>
<path class="t" style="stroke-width:0.75;stroke:#555" d="M1470.1 1288.2 L1469.0 1290.4 L1466.7 1290.4 L1465.5 1288.2 L1466.7 1285.9 L1469.0 1285.9 Z"/>
<ellipse class="t" style="stroke-width:0.75;stroke:#555" cx="1292.6" cy="1172.0" rx="1.2" ry="1.50"/>
<ellipse class="t" style="stroke-width:0.75;stroke:#555" cx="1433.3" cy="1262.1" rx="1.5" ry="1.88"/>
<ellipse class="t" style="stroke-width:0.75;stroke:#555" cx="1243.9" cy="1199.2" rx="1.7" ry="2.12"/>
<ellipse class="t" style="stroke-width:0.75;stroke:#555" cx="1350.0" cy="1210.1" rx="1.2" ry="1.50"/>
<path class="t" style="stroke-width:0.75;stroke:#555" d="M1348.6 1193.9 L1347.7 1195.6 L1346.0 1195.6 L1345.1 1193.9 L1346.0 1192.2 L1347.7 1192.2 Z"/>
<ellipse class="t" style="stroke-width:0.75;stroke:#555" cx="1351.0" cy="1196.1" rx="1.5" ry="1.88"/>
<ellipse class="t" style="stroke-width:0.75;stroke:#555" cx="1470.1" cy="1265.5" rx="1.2" ry="1.50"/>
<ellipse class="t" style="stroke-width:0.75;stroke:#555" cx="1512.1" cy="1291.4" rx="1.5" ry="1.88"/>
<path class="t" style="stroke-width:0.75;stroke:#555" d="M1265.4 1161.5 L1264.8 1162.8 L1263.4 1162.8 L1262.7 1161.5 L1263.4 1160.1 L1264.8 1160.1 Z"/>
<ellipse class="t" style="stroke-width:0.75;stroke:#555" cx="1268.3" cy="1163.7" rx="1.2" ry="1.50"/>
<ellipse class="t" style="stroke-width:0.75;stroke:#555" cx="1533.4" cy="1293.0" rx="1.2" ry="1.50"/>
<path class="t" style="stroke-width:0.75;stroke:#555" d="M1418.2 1228.9 L1417.1 1231.2 L1414.8 1231.2 L1413.6 1228.9 L1414.8 1226.7 L1417.1 1226.7 Z"/>
<ellipse class="t" style="stroke-width:0.75;stroke:#555" cx="1420.1" cy="1231.1" rx="2.0" ry="2.50"/>
<ellipse class="t" style="stroke-width:0.75;stroke:#555" cx="1525.5" cy="1296.8" rx="2.0" ry="2.50"/>
<ellipse class="t" style="stroke-width:0.75;stroke:#555" cx="1252.0" cy="1173.7" rx="1.2" ry="1.50"/>
<ellipse class="t" style="stroke-width:0.75;stroke:#555" cx="1256.2" cy="1175.9" rx="1.2" ry="1.50"/>
<ellipse class="t" style="stroke-width:0.75;stroke:#555" cx="1293.0" cy="1182.8" rx="1.7" ry="2.12"/>
<path class="t" style="stroke-width:0.75;stroke:#555" d="M1463.6 1275.1 L1462.6 1277.0 L1460.6 1277.0 L1459.6 1275.1 L1460.6 1273.1 L1462.6 1273.1 Z"/>
<ellipse class="t" style="stroke-width:0.75;stroke:#555" cx="1465.8" cy="1277.3" rx="1.7" ry="2.12"/>
<path class="t" style="stroke-width:0.75;stroke:#555" d="M1340.6 1201.4 L1339.8 1203.1 L1338.0 1203.1 L1337.2 1201.4 L1338.0 1199.7 L1339.8 1199.7 Z"/>
<ellipse class="t" style="stroke-width:0.75;stroke:#555" cx="1343.1" cy="1203.6" rx="1.5" ry="1.88"/>
<path class="t" style="stroke-width:0.75;stroke:#555" d="M1369.0 1235.9 L1368.2 1237.6 L1366.4 1237.6 L1365.6 1235.9 L1366.4 1234.2 L1368.2 1234.2 Z"/>
<ellipse class="t" style="stroke-width:0.75;stroke:#555" cx="1233.2" cy="1177.6" rx="1.5" ry="1.88"/>
<ellipse class="t" style="stroke-width:0.75;stroke:#555" cx="1237.4" cy="1179.8" rx="1.5" ry="1.88"/>
<ellipse class="t" style="stroke-width:0.75;stroke:#555" cx="1216.7" cy="1163.2" rx="1.2" ry="1.50"/>
<path class="t" style="stroke-width:0.75;stroke:#555" d="M1489.9 1281.2 L1489.3 1282.5 L1487.9 1282.5 L1487.2 1281.2 L1487.9 1279.8 L1489.3 1279.8 Z"/>
<ellipse class="t" style="stroke-width:0.75;stroke:#555" cx="1391.1" cy="1223.9" rx="1.5" ry="1.88"/>
<ellipse class="t" style="stroke-width:0.75;stroke:#555" cx="1487.7" cy="1262.7" rx="1.2" ry="1.50"/>
<ellipse class="t" style="stroke-width:0.75;stroke:#555" cx="1491.9" cy="1264.9" rx="1.2" ry="1.50"/>
<path class="t" style="stroke-width:0.75;stroke:#555" d="M1267.9 1172.3 L1267.2 1173.7 L1265.8 1173.7 L1265.1 1172.3 L1265.8 1171.0 L1267.2 1171.0 Z"/>
<ellipse class="t" style="stroke-width:0.75;stroke:#555" cx="1400.9" cy="1234.1" rx="1.5" ry="1.88"/>
<ellipse class="t" style="stroke-width:0.75;stroke:#555" cx="1442.4" cy="1260.5" rx="1.5" ry="1.88"/>
<ellipse class="t" style="stroke-width:0.75;stroke:#555" cx="1446.6" cy="1262.7" rx="1.5" ry="1.88"/>
<path class="t" style="stroke-width:0.75;stroke:#555" d="M1482.0 1293.3 L1481.3 1294.7 L1479.9 1294.7 L1479.2 1293.3 L1479.9 1292.0 L1481.3 1292.0 Z"/>
<path class="t" style="stroke-width:0.75;stroke:#555" d="M1332.9 1219.2 L1331.9 1221.1 L1329.9 1221.1 L1328.9 1219.2 L1329.9 1217.3 L1331.9 1217.3 Z"/>
<path class="t" style="stroke-width:0.75;stroke:#555" d="M1491.2 1303.3 L1490.4 1305.0 L1488.6 1305.0 L1487.8 1303.3 L1488.6 1301.6 L1490.4 1301.6 Z"/>
<ellipse class="t" style="stroke-width:0.75;stroke:#555" cx="1236.0" cy="1167.4" rx="1.2" ry="1.50"/>
<ellipse class="t" style="stroke-width:0.75;stroke:#555" cx="1546.3" cy="1302.5" rx="1.5" ry="1.88"/>
<ellipse class="t" style="stroke-width:0.75;stroke:#555" cx="1361.7" cy="1222.1" rx="2.0" ry="2.50"/>
<ellipse class="t" style="stroke-width:0.75;stroke:#555" cx="1365.9" cy="1224.3" rx="2.0" ry="2.50"/>
<path class="t" style="stroke-width:0.75;stroke:#555" d="M1479.9 1259.7 L1478.9 1261.6 L1477.0 1261.6 L1476.0 1259.7 L1477.0 1257.8 L1478.9 1257.8 Z"/>
<ellipse class="t" style="stroke-width:0.75;stroke:#555" cx="1482.2" cy="1261.9" rx="1.7" ry="2.12"/>
<ellipse class="t" style="stroke-width:0.75;stroke:#555" cx="1229.2" cy="1185.4" rx="2.0" ry="2.50"/>
<ellipse class="t" style="stroke-width:0.75;stroke:#555" cx="1233.4" cy="1187.6" rx="2.0" ry="2.50"/>
<ellipse class="t" style="stroke-width:0.75;stroke:#555" cx="1447.7" cy="1279.2" rx="1.2" ry="1.50"/>
<ellipse class="t" style="stroke-width:0.75;stroke:#555" cx="1519.2" cy="1270.0" rx="1.5" ry="1.88"/>
<ellipse class="t" style="stroke-width:0.75;stroke:#555" cx="1523.4" cy="1272.2" rx="1.5" ry="1.88"/>
<ellipse class="t" style="stroke-width:0.75;stroke:#555" cx="1475.7" cy="1247.2" rx="1.5" ry="1.88"/>
<ellipse class="t" style="stroke-width:0.75;stroke:#555" cx="1479.9" cy="1249.4" rx="1.5" ry="1.88"/>
<ellipse class="t" style="stroke-width:0.75;stroke:#555" cx="1202.9" cy="1168.5" rx="1.7" ry="2.12"/>
<path class="t" style="stroke-width:0.75;stroke:#555" d="M1385.3 1230.9 L1384.6 1232.2 L1383.2 1232.2 L1382.5 1230.9 L1383.2 1229.5 L1384.6 1229.5 Z"/>
<ellipse class="t" style="stroke-width:0.75;stroke:#555" cx="1299.8" cy="1221.5" rx="1.7" ry="2.12"/>
<ellipse class="t" style="stroke-width:0.75;stroke:#555" cx="1304.0" cy="1223.7" rx="1.7" ry="2.12"/>
<ellipse class="t" style="stroke-width:0.75;stroke:#555" cx="1387.3" cy="1261.4" rx="1.7" ry="2.12"/>
<path class="t" style="stroke-width:0.75;stroke:#555" d="M1501.0 1269.5 L1499.9 1271.7 L1497.6 1271.7 L1496.4 1269.5 L1497.6 1267.2 L1499.9 1267.2 Z"/>
<ellipse class="t" style="stroke-width:0.75;stroke:#555" cx="1502.9" cy="1271.7" rx="2.0" ry="2.50"/>
<ellipse class="t" style="stroke-width:0.75;stroke:#555" cx="1199.8" cy="1151.4" rx="1.5" ry="1.88"/>
<ellipse class="t" style="stroke-width:0.75;stroke:#555" cx="1428.7" cy="1230.0" rx="2.0" ry="2.50"/>
<path class="t" style="stroke-width:0.75;stroke:#555" d="M1262.4 1201.8 L1261.5 1203.5 L1259.8 1203.5 L1258.9 1201.8 L1259.8 1200.1 L1261.5 1200.1 Z"/>
<ellipse class="t" style="stroke-width:0.75;stroke:#555" cx="1264.8" cy="1204.0" rx="1.5" ry="1.88"/>
<ellipse class="t" style="stroke-width:0.75;stroke:#555" cx="1273.1" cy="1183.1" rx="1.5" ry="1.88"/>
<ellipse class="t" style="stroke-width:0.75;stroke:#555" cx="1325.6" cy="1209.0" rx="1.2" ry="1.50"/>
<path class="t" style="stroke-width:0.75;stroke:#555" d="M1193.2 1141.6 L1192.4 1143.3 L1190.6 1143.3 L1189.8 1141.6 L1190.6 1140.0 L1192.4 1140.0 Z"/>
<ellipse class="t" style="stroke-width:0.75;stroke:#555" cx="1195.7" cy="1143.8" rx="1.5" ry="1.88"/>
<ellipse class="t" style="stroke-width:0.75;stroke:#555" cx="1500.9" cy="1261.3" rx="1.5" ry="1.88"/>
<ellipse class="t" style="stroke-width:0.75;stroke:#555" cx="1505.1" cy="1263.5" rx="1.5" ry="1.88"/>
<ellipse class="t" style="stroke-width:0.75;stroke:#555" cx="1371.9" cy="1213.5" rx="2.0" ry="2.50"/>
<path class="t" style="stroke-width:0.75;stroke:#555" d="M1362.4 1212.0 L1361.5 1213.7 L1359.8 1213.7 L1358.9 1212.0 L1359.8 1210.3 L1361.5 1210.3 Z"/>
<ellipse class="t" style="stroke-width:0.75;stroke:#555" cx="1419.1" cy="1254.8" rx="1.2" ry="1.50"/>
<ellipse class="t" style="stroke-width:0.75;stroke:#555" cx="1408.5" cy="1266.5" rx="1.2" ry="1.50"/>
<ellipse class="t" style="stroke-width:0.75;stroke:#555" cx="1209.1" cy="1135.1" rx="1.2" ry="1.50"/>
<ellipse class="t" style="stroke-width:0.75;stroke:#555" cx="1450.9" cy="1246.2" rx="1.5" ry="1.88"/>
<ellipse class="t" style="stroke-width:0.75;stroke:#555" cx="1354.9" cy="1232.9" rx="2.0" ry="2.50"/>
<ellipse class="t" style="stroke-width:0.75;stroke:#555" cx="1359.1" cy="1235.1" rx="2.0" ry="2.50"/>
<path class="t" style="stroke-width:0.75;stroke:#555" d="M1307.2 1180.5 L1306.1 1182.8 L1303.8 1182.8 L1302.6 1180.5 L1303.8 1178.2 L1306.1 1178.2 Z"/>
<ellipse class="t" style="stroke-width:0.75;stroke:#555" cx="1309.1" cy="1182.7" rx="2.0" ry="2.50"/>
<ellipse class="t" style="stroke-width:0.75;stroke:#555" cx="1218.3" cy="1146.4" rx="2.0" ry="2.50"/>
<ellipse class="t" style="stroke-width:0.75;stroke:#555" cx="1222.5" cy="1148.6" rx="2.0" ry="2.50"/>
<path class="t" style="stroke-width:0.75;stroke:#555" d="M1261.3 1189.2 L1260.3 1191.1 L1258.4 1191.1 L1257.4 1189.2 L1258.4 1187.3 L1260.3 1187.3 Z"/>
<ellipse class="t" style="stroke-width:0.75;stroke:#555" cx="1263.6" cy="1191.4" rx="1.7" ry="2.12"/>
<path class="t" style="stroke-width:0.75;stroke:#555" d="M1305.8 1212.0 L1304.9 1213.6 L1303.2 1213.6 L1302.3 1212.0 L1303.2 1210.3 L1304.9 1210.3 Z"/>
<ellipse class="t" style="stroke-width:0.75;stroke:#555" cx="1498.6" cy="1308.1" rx="1.2" ry="1.50"/>
<ellipse class="t" style="stroke-width:0.75;stroke:#555" cx="1344.0" cy="1237.2" rx="2.0" ry="2.50"/>
<ellipse class="t" style="stroke-width:0.75;stroke:#555" cx="1396.1" cy="1252.7" rx="1.7" ry="2.12"/>
<ellipse class="t" style="stroke-width:0.75;stroke:#555" cx="1221.4" cy="1175.8" rx="1.5" ry="1.88"/>
<ellipse class="t" style="stroke-width:0.75;stroke:#555" cx="1419.8" cy="1244.4" rx="2.0" ry="2.50"/>
<ellipse class="t" style="stroke-width:0.75;stroke:#555" cx="1424.0" cy="1246.6" rx="2.0" ry="2.50"/>
<path class="m" style="stroke-width:1.5" d="M1040.5 1284.8 L1038.0 1287.9 L1034.7 1286.6 L1033.9 1282.2 L1036.4 1279.1 L1039.7 1280.4 Z"/>
<ellipse class="t" cx="1037.2" cy="1283.5" rx="2.1" ry="2.8"/>
<path class="m" style="stroke-width:1.5" d="M1263.2 1384.4 L1258.9 1389.7 L1253.3 1387.4 L1252.0 1379.8 L1256.3 1374.5 L1261.9 1376.8 Z"/>
<ellipse class="t" cx="1257.6" cy="1382.1" rx="3.6" ry="4.8"/>
<path class="m" style="stroke-width:1.5" d="M1291.7 1178.4 L1289.2 1181.5 L1285.9 1180.2 L1285.1 1175.8 L1287.6 1172.7 L1290.9 1174.0 Z"/>
<ellipse class="t" cx="1288.4" cy="1177.1" rx="2.1" ry="2.8"/>
<path class="m" style="stroke-width:1.5" d="M1507.8 1300.2 L1503.7 1305.2 L1498.4 1303.0 L1497.2 1295.8 L1501.3 1290.8 L1506.6 1293.0 Z"/>
<ellipse class="t" cx="1502.5" cy="1298" rx="3.4" ry="4.5"/>
<path class="m" style="stroke-width:1.5" d="M998.0 1255.0 L996.1 1257.4 L993.6 1256.3 L993.0 1253.0 L994.9 1250.6 L997.4 1251.7 Z"/>
<ellipse class="t" cx="995.5" cy="1254" rx="1.6" ry="2.1"/>
<ellipse class="t" style="stroke-width:0.75;stroke:#555" cx="1136" cy="1262" rx="1.8" ry="1.1"/>
<ellipse class="t" style="stroke-width:0.75;stroke:#555" cx="1262" cy="1316" rx="1.8" ry="1.1"/>
<ellipse class="t" style="stroke-width:0.75;stroke:#555" cx="1350" cy="1354" rx="1.8" ry="1.1"/>
<ellipse class="t" style="stroke-width:0.75;stroke:#555" cx="1272" cy="1347" rx="1.8" ry="1.1"/>
<ellipse class="t" style="stroke-width:0.75;stroke:#555" cx="1433" cy="1384" rx="1.8" ry="1.1"/>
<ellipse class="t" style="stroke-width:0.75;stroke:#555" cx="1208" cy="1294" rx="1.8" ry="1.1"/>
<ellipse class="t" style="stroke-width:0.75;stroke:#555" cx="1405" cy="1393" rx="1.8" ry="1.1"/>
<ellipse class="t" style="stroke-width:0.75;stroke:#555" cx="1480" cy="1420" rx="1.8" ry="1.1"/>
<ellipse class="t" style="stroke-width:0.75;stroke:#555" cx="1213" cy="1101" rx="1.8" ry="1.1"/>
<ellipse class="t" style="stroke-width:0.75;stroke:#555" cx="1300" cy="1137" rx="1.8" ry="1.1"/>
<ellipse class="t" style="stroke-width:0.75;stroke:#555" cx="1390" cy="1175" rx="1.8" ry="1.1"/>
<ellipse class="t" style="stroke-width:0.75;stroke:#555" cx="1480" cy="1213" rx="1.8" ry="1.1"/>
<ellipse class="t" style="stroke-width:0.75;stroke:#555" cx="1560" cy="1247" rx="1.8" ry="1.1"/>
<ellipse class="t" style="stroke-width:0.75;stroke:#555" cx="1620" cy="1272" rx="1.8" ry="1.1"/>
<ellipse class="t" style="stroke-width:0.75;stroke:#555" cx="1660" cy="1296" rx="1.8" ry="1.1"/>
<ellipse class="t" style="stroke-width:0.75;stroke:#555" cx="1250" cy="1205" rx="1.8" ry="1.1"/>
<ellipse class="t" style="stroke-width:0.75;stroke:#555" cx="1330" cy="1240" rx="1.8" ry="1.1"/>
<ellipse class="t" style="stroke-width:0.75;stroke:#555" cx="1420" cy="1277" rx="1.8" ry="1.1"/>
<ellipse class="t" style="stroke-width:0.75;stroke:#555" cx="1520" cy="1342" rx="1.8" ry="1.1"/>
</g>
<g id="seat" style="stroke-width:1.05">
<circle cx="674.8" cy="397.3" r="322" fill="none" stroke="#111" stroke-width="2"/>
<path class="w" style="stroke-width:1.05" d="M663.6 573.8 L666.6 570.9 L680.6 570.1 L772.3 610.1 L783.4 613.0 L784.2 621.9 L772.3 626.3 L665.1 579.7 Z"/>
<path class="t" style="stroke-width:1.05" d="M663.6 573.8 L772.3 620.4 L784.2 616.0"/>
<path class="t" style="stroke-width:1.05" d="M772.3 620.4 L772.3 626.3"/>
<path class="t" style="stroke-width:1.05" d="M688.8 575.3 L747.9 604.9 L749.4 602.7 L691.7 573.8 Z"/>
<path class="m" style="stroke-width:1.4" d="M694.7 577.5 L696.9 575.7"/>
<path class="m" style="stroke-width:1.4" d="M700.6 580.5 L702.8 578.7"/>
<path class="m" style="stroke-width:1.4" d="M706.5 583.4 L708.7 581.7"/>
<path class="m" style="stroke-width:1.4" d="M712.4 586.4 L714.6 584.6"/>
<path class="m" style="stroke-width:1.4" d="M718.3 589.3 L720.6 587.6"/>
<path class="m" style="stroke-width:1.4" d="M724.3 592.3 L726.5 590.5"/>
<path class="m" style="stroke-width:1.4" d="M730.2 595.3 L732.4 593.5"/>
<path class="m" style="stroke-width:1.4" d="M736.1 598.2 L738.3 596.4"/>
<path class="m" style="stroke-width:1.4" d="M742.0 601.2 L744.2 599.4"/>
<path class="m" style="stroke-width:2" d="M690.2 576.8 L747.2 605.9"/>
<path class="t" style="stroke-width:1.05" d="M671.0 553.8 L672.5 570.1"/>
<path class="t" style="stroke-width:1.05" d="M671.0 553.8 L767.2 593.8 L767.9 610.1"/>
<path class="t" style="stroke-width:1.05" d="M674.0 561.2 L767.2 599.7"/>
<ellipse class="w" style="stroke-width:1.05" cx="675.4" cy="568.6" rx="3.3" ry="2.7" transform="rotate(0 675.4 568.6)"/>
<ellipse class="w" style="stroke-width:1.05" cx="762.7" cy="607.1" rx="3.3" ry="2.7" transform="rotate(0 762.7 607.1)"/>
<ellipse class="t" style="stroke-width:1.05" cx="682.1" cy="564.2" rx="0.7" ry="0.7" transform="rotate(0 682.1 564.2)"/>
<ellipse class="t" style="stroke-width:1.05" cx="690.2" cy="567.2" rx="0.7" ry="0.7" transform="rotate(0 690.2 567.2)"/>
<ellipse class="t" style="stroke-width:1.05" cx="702.1" cy="563.5" rx="0.7" ry="0.7" transform="rotate(0 702.1 563.5)"/>
<ellipse class="t" style="stroke-width:1.05" cx="724.3" cy="579.0" rx="0.7" ry="0.7" transform="rotate(0 724.3 579.0)"/>
<ellipse class="t" style="stroke-width:1.05" cx="735.4" cy="587.1" rx="0.7" ry="0.7" transform="rotate(0 735.4 587.1)"/>
<ellipse class="t" style="stroke-width:1.05" cx="745.7" cy="589.3" rx="0.7" ry="0.7" transform="rotate(0 745.7 589.3)"/>
<ellipse class="t" style="stroke-width:1.05" cx="682.8" cy="556.1" rx="0.7" ry="0.7" transform="rotate(0 682.8 556.1)"/>
<ellipse class="t" style="stroke-width:1.05" cx="770.1" cy="599.7" rx="0.7" ry="0.7" transform="rotate(0 770.1 599.7)"/>
<path class="m" style="stroke-width:1.3" d="M691.7 564.2 L702.1 568.6 L702.8 570.9 L692.5 566.4 Z"/>
<path class="t" style="stroke-width:1.05" d="M784.9 617.5 C787.1 617.7,794.5 619.7,798.2 618.9 C801.9 618.2,804.4 615.7,807.1 613.0 C809.8 610.3,811.5 605.4,814.5 602.7 C817.5 600.0,820.2 598.5,824.9 596.7 C829.5 595.0,836.4 593.3,842.6 592.3 C848.8 591.3,858.0 593.0,861.8 590.8 C865.7 588.6,865.8 581.3,865.5 579.0 C865.3 576.7,862.7 576.7,860.4 576.8 C858.0 576.9,853.0 579.2,851.5 579.7"/>
<path class="t" style="stroke-width:1.05" d="M779.7 613.0 C782.6 613.4,792.7 615.7,796.7 615.2 C800.8 614.7,801.7 612.6,804.1 610.1 C806.6 607.5,808.3 602.4,811.5 599.7 C814.7 597.0,818.2 595.6,823.4 593.8 C828.6 592.0,836.8 590.0,842.6 589.1 C848.4 588.1,855.2 589.9,858.1 587.9 C861.1 585.8,860.0 578.6,860.4 576.8"/>
<path class="t" style="stroke-width:1.05" d="M779.0 599.7 L851.5 574.6 L860.4 576.8"/>
<path class="t" style="stroke-width:1.05" d="M779.0 602.7 L842.6 580.5"/>
<path class="t" style="stroke-width:1.05" d="M779.0 593.8 L842.6 571.6 L842.6 567.2"/>
<ellipse class="t" style="stroke-width:1.05" cx="796.7" cy="588.6" rx="0.7" ry="0.7" transform="rotate(0 796.7 588.6)"/>
<ellipse class="t" style="stroke-width:1.05" cx="813.0" cy="579.0" rx="0.7" ry="0.7" transform="rotate(0 813.0 579.0)"/>
<ellipse class="t" style="stroke-width:1.05" cx="829.3" cy="574.6" rx="0.7" ry="0.7" transform="rotate(0 829.3 574.6)"/>
<ellipse class="t" style="stroke-width:1.05" cx="830.8" cy="584.9" rx="0.7" ry="0.7" transform="rotate(0 830.8 584.9)"/>
<ellipse class="t" style="stroke-width:1.05" cx="838.2" cy="570.9" rx="0.7" ry="0.7" transform="rotate(0 838.2 570.9)"/>
<ellipse class="t" style="stroke-width:1.05" cx="851.5" cy="586.4" rx="0.7" ry="0.7" transform="rotate(0 851.5 586.4)"/>
<path class="w" style="stroke-width:1.5" d="M772.3 615.2 L782.0 613.0 L784.2 621.9 L779.7 624.9 L774.6 625.6 Z"/>
<path class="t" style="stroke-width:1.05" d="M776.0 616.0 L776.8 624.9"/>
<g>
<path class="w" style="stroke:none" d="M658.4 510.9 L762.0 550.9 L782.0 547.9 L860.4 516.1 L860.4 559.0 L848.5 568.6 L782.7 595.3 L762.0 596.7 L671.0 556.8 L657.7 546.4 Z"/>
<path class="t" style="stroke-width:0.9" d="M658.1 514.6 L760.5 554.6 Q771.6 556.7 783.4 553.1 L860.4 520.6"/>
<path class="t" style="stroke-width:0.7" d="M658.1 516.4 L760.5 556.4 Q771.6 558.4 783.4 554.9 L860.4 522.3"/>
<path class="t" style="stroke-width:0.9" d="M658.1 519.4 L760.5 559.3 Q771.6 561.4 783.4 557.8 L860.4 525.3"/>
<path class="t" style="stroke-width:0.7" d="M658.1 521.2 L760.5 561.1 Q771.6 563.2 783.4 559.6 L860.4 527.1"/>
<path class="t" style="stroke-width:0.9" d="M658.1 524.1 L760.5 564.1 Q771.6 566.1 783.4 562.6 L860.4 530.0"/>
<path class="t" style="stroke-width:0.7" d="M658.1 525.9 L760.5 565.8 Q771.6 567.9 783.4 564.3 L860.4 531.8"/>
<path class="t" style="stroke-width:0.9" d="M658.1 528.8 L760.5 568.8 Q771.6 570.9 783.4 567.3 L860.4 534.8"/>
<path class="t" style="stroke-width:0.7" d="M658.1 530.6 L760.5 570.6 Q771.6 572.6 783.4 569.1 L860.4 536.5"/>
<path class="t" style="stroke-width:0.9" d="M658.1 533.6 L760.5 573.5 Q771.6 575.6 783.4 572.0 L860.4 539.5"/>
<path class="t" style="stroke-width:0.7" d="M658.1 535.4 L760.5 575.3 Q771.6 577.4 783.4 573.8 L860.4 541.3"/>
<path class="t" style="stroke-width:0.9" d="M658.1 538.3 L760.5 578.3 Q771.6 580.3 783.4 576.8 L860.4 544.2"/>
<path class="t" style="stroke-width:0.7" d="M658.1 540.1 L760.5 580.0 Q771.6 582.1 783.4 578.6 L860.4 546.0"/>
<path class="t" style="stroke-width:0.9" d="M658.1 543.0 L760.5 583.0 Q771.6 585.1 783.4 581.5 L860.4 549.0"/>
<path class="t" style="stroke-width:0.7" d="M658.1 544.8 L760.5 584.8 Q771.6 586.8 783.4 583.3 L860.4 550.7"/>
<path class="t" style="stroke-width:0.9" d="M664.8 547.8 L760.5 587.7 Q771.6 589.8 783.4 586.2 L854.4 553.7"/>
<path class="t" style="stroke-width:0.7" d="M664.8 549.6 L760.5 589.5 Q771.6 591.6 783.4 588.0 L854.4 555.5"/>
<path class="t" style="stroke-width:0.9" d="M671.4 552.5 L760.5 592.5 Q771.6 594.5 783.4 591.0 L848.5 558.4"/>
<path class="t" style="stroke-width:1.05" d="M658.4 510.9 C658.2 512.2,657.0 515.9,657.0 518.3 C657.0 520.8,658.4 523.3,658.4 525.7 C658.4 528.2,657.0 529.7,657.0 533.1 C656.9 536.6,655.6 542.5,658.0 546.4 C660.3 550.4,668.8 555.1,671.0 556.8"/>
<path class="t" style="stroke-width:1.05" d="M860.4 516.1 C860.6 517.7,861.6 522.4,861.5 525.7 C861.5 529.1,860.1 532.6,860.1 536.1 C860.0 539.5,861.0 542.6,861.1 546.4 C861.1 550.3,862.5 555.3,860.4 559.0 C858.3 562.7,850.5 567.0,848.5 568.6"/>
<path class="t" style="stroke-width:1.05" d="M813.0 545.0 L821.9 542.0 L818.9 547.9 L813.0 556.8"/>
</g>
<path class="w" style="stroke-width:1.05" d="M681.9 450.2 C677.9 450.0,674.7 451.0,672.8 452.5 C671.0 454.0,670.4 454.4,670.6 459.3 C670.8 464.2,672.7 475.9,674.0 481.9 C675.3 488.0,677.0 492.5,678.5 495.5 C680.0 498.5,671.9 494.9,683.0 500.0 C694.2 505.1,734.2 519.3,745.3 526.1 C756.4 532.9,747.0 537.4,749.8 540.8 C752.7 544.2,758.0 545.7,762.3 546.5 C766.6 547.2,772.3 546.6,775.9 545.3 C779.5 544.0,781.9 541.7,783.8 538.5 C785.7 535.3,771.0 535.1,787.2 526.1 C803.4 517.0,865.0 491.5,881.2 484.2 C897.4 476.8,882.9 485.7,884.6 481.9 C886.3 478.1,890.1 466.4,891.4 461.5 C892.7 456.6,893.8 457.0,892.5 452.5 C891.2 447.9,887.8 440.4,883.5 434.4 C879.1 428.3,873.1 421.5,866.5 416.2 C859.9 411.0,851.0 405.7,843.8 402.6 C836.7 399.6,831.0 398.7,823.4 398.1 C815.9 397.6,807.2 398.3,798.5 399.3 C789.9 400.2,776.8 398.7,771.4 403.8 C765.9 408.9,769.7 423.0,765.7 429.8 C761.7 436.6,754.4 440.8,747.6 444.5 C740.8 448.3,733.4 451.0,724.9 452.5 C716.4 454.0,703.8 454.0,696.6 453.6 C689.4 453.2,685.9 450.4,681.9 450.2 Z"/>
<path class="t" style="stroke-width:1.05" d="M681.9 452.5 C684.7 453.4,690.8 455.7,698.9 458.1 C707.0 460.6,721.5 464.6,730.6 467.2 C739.6 469.8,747.0 472.1,753.2 474.0 C759.5 475.9,763.6 476.3,768.0 478.5 C772.3 480.8,776.3 484.0,779.3 487.6 C782.3 491.2,784.7 495.7,786.1 500.0 C787.5 504.4,787.6 509.3,787.8 513.6 C788.0 518.0,787.3 524.0,787.2 526.1"/>
<path class="t" style="stroke-width:1.05" d="M683.0 454.7 C685.7 455.7,691.0 458.1,698.9 460.6 C706.8 463.1,721.7 467.1,730.6 469.7 C739.5 472.3,746.3 474.4,752.1 476.3 C758.0 478.1,761.6 478.8,765.7 481.0 C769.8 483.2,773.6 485.9,776.5 489.3 C779.3 492.6,781.6 497.1,782.9 501.2 C784.2 505.2,784.4 509.3,784.4 513.6 C784.4 518.0,783.2 524.9,782.9 527.2"/>
<path class="t" style="stroke-width:0.8" d="M679.1 497.2 C679.9 498.0,673.1 496.6,684.2 501.7 C695.2 506.8,728.3 523.4,745.3 527.8 C762.3 532.1,779.3 527.8,786.1 527.8"/>
<path class="t" style="stroke-width:1.05" d="M787.2 526.1 L884.6 481.9"/>
<path class="t" style="stroke-width:0.8" d="M787.8 528.3 L885.2 484.0"/>
<path class="t" style="stroke-width:1.05" d="M773.6 426.4 C779.7 426.2,798.2 424.5,809.9 425.3 C821.6 426.0,834.4 427.9,843.8 431.0 C853.3 434.0,859.9 438.3,866.5 443.4 C873.1 448.5,880.4 455.1,883.5 461.5 C886.5 467.9,884.4 478.5,884.6 481.9"/>
<path class="t" style="stroke-width:1.05" d="M774.2 428.7 C780.1 428.5,798.4 426.8,809.9 427.6 C821.3 428.3,833.5 430.2,842.7 433.2 C851.8 436.2,858.5 440.8,864.8 445.7 C871.1 450.6,877.8 456.5,880.6 462.7 C883.5 468.8,881.6 479.2,881.8 482.5"/>
<path class="m" style="stroke-width:1.4" d="M669.4 446.8 C674.0 447.9,687.4 452.7,696.6 453.6 C705.9 454.5,716.4 454.0,724.9 452.5 C733.4 451.0,740.8 448.3,747.6 444.5 C754.4 440.8,762.7 432.3,765.7 429.8"/>
<path class="t" style="stroke-width:0.8" d="M670.6 445.1 C674.9 446.2,687.7 450.7,696.6 451.6 C705.6 452.5,716.1 451.9,724.4 450.4 C732.7 449.0,739.8 446.5,746.4 442.8 C753.0 439.2,761.1 431.1,764.0 428.7"/>
<path class="m" style="stroke-width:1.0" d="M742.5 473.1 C744.7 473.8,750.9 474.8,755.5 477.4 C760.1 480.0,766.1 484.5,770.2 488.7 C774.4 493.0,778.7 500.5,780.4 502.9"/>
<path class="m" style="stroke-width:1.0" d="M744.1 473.5 C746.2 474.3,752.1 475.5,756.6 478.3 C761.1 481.0,767.1 485.8,771.1 490.1 C775.1 494.3,779.1 501.5,780.8 503.8"/>
<path class="m" style="stroke-width:1.0" d="M745.7 474.0 C747.7 474.9,753.4 476.3,757.8 479.2 C762.2 482.1,768.1 487.2,772.0 491.4 C775.9 495.7,779.6 502.5,781.1 504.7"/>
<path class="m" style="stroke-width:1.0" d="M747.2 474.4 C749.2 475.4,754.6 477.0,758.9 480.1 C763.2 483.2,769.2 488.5,772.9 492.8 C776.7 497.0,780.0 503.4,781.4 505.6"/>
<path class="m" style="stroke-width:1.0" d="M748.8 474.9 C750.7 475.9,755.9 477.8,760.0 481.0 C764.2 484.2,770.2 489.9,773.8 494.1 C777.5 498.4,780.5 504.4,781.8 506.5"/>
<path class="m" style="stroke-width:1.0" d="M750.4 475.3 C752.2 476.4,757.1 478.6,761.2 481.9 C765.2 485.3,771.3 491.3,774.8 495.5 C778.2 499.7,780.9 505.4,782.1 507.4"/>
<path class="m" style="stroke-width:1.0" d="M752.0 475.8 C753.7 477.0,758.4 479.3,762.3 482.8 C766.2 486.3,772.3 492.6,775.7 496.9 C779.0 501.1,781.3 506.4,782.5 508.3"/>
<path class="m" style="stroke-width:1.0" d="M753.6 476.3 C755.2 477.5,759.6 480.1,763.4 483.7 C767.3 487.4,773.3 494.0,776.6 498.2 C779.8 502.5,781.8 507.4,782.8 509.2"/>
<path class="m" style="stroke-width:1.0" d="M853.5 428.7 C856.2 430.0,864.9 433.2,869.9 436.6 C874.9 440.0,880.0 445.3,883.5 449.1 C887.0 452.8,889.6 457.6,890.8 459.3"/>
<path class="m" style="stroke-width:1.0" d="M854.8 427.8 C857.5 429.1,866.1 432.4,871.0 435.9 C875.9 439.4,881.0 445.0,884.4 448.8 C887.7 452.7,889.9 457.5,891.0 459.3"/>
<path class="m" style="stroke-width:1.0" d="M856.2 426.9 C858.8 428.3,867.3 431.6,872.1 435.3 C877.0 438.9,882.1 444.6,885.3 448.6 C888.5 452.6,890.3 457.5,891.3 459.3"/>
<path class="m" style="stroke-width:1.0" d="M857.5 426.0 C860.2 427.4,868.5 430.8,873.3 434.6 C878.0 438.3,883.1 444.3,886.2 448.4 C889.2 452.5,890.6 457.5,891.5 459.3"/>
<path class="m" style="stroke-width:1.0" d="M858.9 425.1 C861.5 426.5,869.7 430.1,874.4 433.9 C879.1 437.8,884.2 443.9,887.1 448.2 C890.0 452.4,891.0 457.4,891.7 459.3"/>
<path class="m" style="stroke-width:1.0" d="M860.2 424.2 C862.8 425.7,870.9 429.3,875.5 433.2 C880.2 437.2,885.3 443.6,888.0 447.9 C890.7 452.3,891.3 457.4,892.0 459.3"/>
<path class="m" style="stroke-width:1.0" d="M861.6 423.3 C864.1 424.8,872.1 428.5,876.7 432.5 C881.2 436.6,886.3 443.3,888.9 447.7 C891.5 452.2,891.6 457.3,892.2 459.3"/>
<path class="t" style="stroke-width:0.8" d="M675.1 417.4 C678.3 417.4,687.9 415.7,694.4 417.4 C700.8 419.1,707.6 424.7,713.6 427.6 C719.6 430.4,725.3 433.0,730.6 434.4 C735.9 435.7,742.9 435.3,745.3 435.5"/>
<path class="t" style="stroke-width:0.8" d="M672.8 425.3 C675.9 425.3,684.7 423.8,691.0 425.3 C697.2 426.8,703.6 431.3,710.2 434.4 C716.8 437.4,724.4 441.7,730.6 443.4 C736.8 445.1,744.7 444.4,747.6 444.5"/>
<path class="t" style="stroke-width:0.8" d="M687.6 414.0 C690.2 414.0,697.2 412.1,703.4 414.0 C709.6 415.9,718.5 422.7,724.9 425.3 C731.3 427.9,736.1 429.8,741.9 429.8 C747.8 429.8,757.0 426.0,760.0 425.3"/>
<path class="t" style="stroke-width:0.8" d="M703.4 408.3 C706.1 408.3,713.2 406.6,719.3 408.3 C725.3 410.0,734.0 416.4,739.6 418.5 C745.3 420.6,749.1 421.5,753.2 420.8 C757.4 420.0,762.7 415.1,764.6 414.0"/>
<path class="t" style="stroke-width:0.8" d="M719.3 402.6 C722.1 402.6,730.6 401.5,736.3 402.6 C741.9 403.8,748.7 408.7,753.2 409.4 C757.8 410.2,761.7 407.6,763.4 407.2"/>
<path class="t" style="stroke-width:0.8" d="M671.7 434.4 C674.5 434.4,682.7 432.8,688.7 434.4 C694.7 435.9,701.7 440.4,707.9 443.4 C714.2 446.4,723.0 451.0,726.1 452.5"/>
<path class="t" style="stroke-width:0.8" d="M670.6 449.1 C671.7 444.7,674.5 428.9,677.4 423.0 C680.2 417.2,683.2 416.4,687.6 414.0 C691.9 411.5,698.1 410.2,703.4 408.3 C708.7 406.4,714.2 404.7,719.3 402.6 C724.4 400.6,731.5 397.0,734.0 395.9"/>
<path class="t" style="stroke-width:0.8" d="M696.6 453.6 C697.8 451.2,700.6 443.2,703.4 438.9 C706.2 434.5,710.0 429.8,713.6 427.6 C717.2 425.3,723.0 425.7,724.9 425.3"/>
<path class="t" style="stroke-width:0.8" d="M724.9 452.5 C725.5 451.0,727.4 446.4,728.3 443.4 C729.3 440.4,728.7 438.5,730.6 434.4 C732.5 430.2,738.1 421.1,739.6 418.5"/>
<path class="t" style="stroke-width:0.8" d="M698.9 458.1 C697.2 459.5,690.0 460.2,688.7 466.1 C687.4 471.9,689.6 486.6,691.0 493.2 C692.3 499.8,695.7 503.6,696.6 505.7"/>
<path class="t" style="stroke-width:0.8" d="M721.5 464.9 C721.2 466.2,717.9 470.0,719.3 472.9 C720.6 475.7,726.2 479.5,729.5 481.9 C732.7 484.4,736.8 480.8,738.5 487.6 C740.2 494.4,739.5 516.8,739.6 522.7"/>
<path class="t" style="stroke-width:0.8" d="M768.0 478.5 C768.1 482.9,768.7 496.4,768.5 504.6 C768.3 512.7,767.1 523.4,766.8 527.2"/>
<path class="t" style="stroke-width:0.8" d="M688.7 466.1 C693.8 468.7,711.0 477.2,719.3 481.9 C727.6 486.6,730.0 490.2,738.5 494.4 C747.0 498.5,762.6 505.6,770.2 506.8 C777.9 508.1,782.0 502.6,784.4 501.7"/>
<path class="t" style="stroke-width:0.8" d="M674.0 481.9 C676.8 483.8,683.4 489.3,691.0 493.2 C698.5 497.2,711.2 502.3,719.3 505.7 C727.4 509.1,731.7 511.4,739.6 513.6 C747.6 515.9,759.4 519.1,766.8 519.3 C774.3 519.5,781.5 515.5,784.4 514.8"/>
<path class="t" style="stroke-width:0.8" d="M672.8 452.5 L688.7 466.1"/>
<path class="t" style="stroke-width:0.8" d="M678.5 495.5 C678.9 493.2,680.8 488.0,680.8 481.9 C680.8 475.9,678.9 463.0,678.5 459.3"/>
<path class="t" style="stroke-width:0.8" d="M736.3 468.3 C736.1 471.5,734.7 483.2,735.1 487.6 C735.5 491.9,738.0 493.2,738.5 494.4"/>
<path class="t" style="stroke-width:0.8" d="M746.4 526.1 C747.6 527.8,749.8 536.1,753.2 536.3 C756.6 536.5,761.9 528.7,766.8 527.2 C771.8 525.7,780.2 527.2,782.9 527.2"/>
<path class="t" style="stroke-width:0.8" d="M779.3 487.6 C788.2 484.6,815.1 475.1,832.5 469.5 C849.9 463.8,875.0 456.2,883.5 453.6"/>
<path class="t" style="stroke-width:0.8" d="M786.1 500.0 C794.8 496.6,821.0 485.7,838.2 479.6 C855.3 473.6,880.6 466.4,889.1 463.8"/>
<path class="t" style="stroke-width:0.8" d="M787.2 511.4 C795.7 507.8,821.9 496.3,838.2 489.8 C854.4 483.4,876.9 475.7,884.6 472.9"/>
<path class="t" style="stroke-width:0.8" d="M773.6 477.4 C780.6 475.1,801.9 468.3,815.5 463.8 C829.1 459.3,844.8 453.6,855.2 450.2 C865.5 446.8,874.0 444.5,877.8 443.4"/>
<path class="t" style="stroke-width:0.8" d="M753.2 474.0 C760.8 471.5,784.4 464.4,798.5 459.3 C812.7 454.2,828.7 447.9,838.2 443.4 C847.6 438.9,852.3 434.0,855.2 432.1"/>
<path class="t" style="stroke-width:0.8" d="M730.6 467.2 C737.2 464.7,757.0 457.2,770.2 452.5 C783.4 447.8,799.5 442.7,809.9 438.9 C820.2 435.1,828.7 431.3,832.5 429.8"/>
<path class="t" style="stroke-width:0.8" d="M747.6 444.5 C753.2 443.2,771.2 439.4,781.5 436.6 C791.9 433.8,805.1 429.1,809.9 427.6"/>
<path class="t" style="stroke-width:0.8" d="M812.1 472.9 C812.5 476.3,814.6 486.3,814.4 493.2 C814.2 500.2,811.6 511.2,811.0 514.8"/>
<path class="t" style="stroke-width:0.8" d="M832.5 467.2 C833.3 469.6,836.7 475.7,837.0 481.9 C837.4 488.1,835.1 500.8,834.8 504.6"/>
<path class="t" style="stroke-width:0.8" d="M855.2 459.3 C855.5 461.7,857.6 467.9,857.4 474.0 C857.2 480.0,854.6 491.9,854.0 495.5"/>
<path class="t" style="stroke-width:0.8" d="M872.1 450.2 C872.7 452.8,875.5 459.8,875.5 466.1 C875.5 472.3,872.7 484.0,872.1 487.6"/>
<path class="t" style="stroke-width:0.8" d="M816.7 400.4 C815.5 402.6,811.9 409.6,809.9 414.0 C807.8 418.3,805.1 424.4,804.2 426.4"/>
<path class="t" style="stroke-width:0.8" d="M825.7 400.4 C824.4 402.6,820.0 409.4,817.8 414.0 C815.5 418.5,813.1 425.3,812.1 427.6"/>
<path class="t" style="stroke-width:0.8" d="M773.6 426.4 L771.4 403.8"/>
<path class="t" style="stroke-width:0.8" d="M809.9 426.4 C810.2 430.0,811.7 440.2,812.1 447.9 C812.5 455.7,812.1 468.7,812.1 472.9"/>
<path class="t" style="stroke-width:0.8" d="M787.2 432.1 C787.8 435.5,789.9 444.2,790.6 452.5 C791.4 460.8,792.3 472.1,791.7 481.9 C791.2 491.7,788.0 506.4,787.2 511.4"/>
<path class="t" style="stroke-width:0.8" d="M843.8 432.1 C844.8 434.7,847.6 443.4,849.5 447.9 C851.4 452.5,854.2 457.4,855.2 459.3"/>
<path class="w" style="stroke-width:1.05" d="M678.5 495.5 C678.3 497.0,676.6 501.7,677.4 504.6 C678.1 507.4,672.3 506.8,683.0 512.5 C693.8 518.1,731.0 533.8,741.9 538.5 C752.9 543.3,747.6 540.4,748.7 540.8"/>
<ellipse class="t" style="stroke-width:1.05" cx="689.3" cy="510.8" rx="2.3" ry="2.5" transform="rotate(0 689.3 510.8)"/>
<path class="m" style="stroke-width:1.6" d="M787.2 526.6 L807.6 527.2 L804.2 534.0 L786.1 541.4 Z"/>
<path class="t" style="stroke-width:1.05" d="M792.9 530.6 L803.1 529.5 L789.5 537.4"/>
<path class="m" style="stroke-width:1.6" d="M849.5 508.0 L872.1 494.4 L876.1 497.8 L851.8 512.7 Z"/>
<path class="t" style="stroke-width:1.05" d="M854.0 508.0 L871.0 497.8"/>
<path class="m" style="stroke-width:1.4" d="M816.7 520.4 C818.2 519.5,823.1 516.3,825.7 514.8 C828.4 513.2,829.9 512.1,832.5 511.4 C835.1 510.6,839.7 509.8,841.6 510.2 C843.4 510.6,843.4 513.1,843.8 513.6"/>
<path class="t" style="stroke-width:1.05" d="M821.2 520.4 C822.7 519.7,827.6 516.1,830.2 515.9 C832.9 515.7,834.8 519.7,837.0 519.3 C839.3 518.9,842.7 514.6,843.8 513.6"/>
<path class="w" style="stroke-width:1.05" d="M611.4 427.1 C611.1 429.9,609.0 437.6,609.3 443.8 C609.7 450.1,611.4 457.8,613.5 464.8 C615.6 471.8,617.0 480.9,621.9 485.8 C626.8 490.7,635.9 493.1,642.9 494.1 C649.9 495.2,657.6 492.0,663.8 492.0 C670.1 492.0,677.8 493.8,680.6 494.1"/>
<path class="t" style="stroke-width:1.05" d="M611.4 427.1 C613.2 426.4,618.4 422.5,621.9 422.9 C625.4 423.2,629.3 425.0,632.4 429.2 C635.5 433.4,639.0 440.7,640.8 448.0 C642.5 455.4,641.5 467.6,642.9 473.2 C644.3 478.8,643.2 478.8,649.2 481.6 C655.1 484.4,673.6 488.6,678.5 490.0"/>
<path class="t" style="stroke-width:1.05" d="M642.9 454.3 L645.0 477.4 L663.8 483.7 L663.8 469.0 L649.2 464.8 Z"/>
<path class="t" style="stroke-width:1.05" d="M663.8 494.1 C664.2 496.2,663.1 503.9,665.9 506.7 C668.7 509.5,678.2 510.2,680.6 510.9"/>
<path class="t" style="stroke-width:1.05" d="M672.2 494.1 C672.6 495.9,672.6 502.5,674.3 504.6 C676.1 506.7,681.3 506.4,682.7 506.7"/>
<path class="w" style="stroke-width:1.4" d="M657.6 425.0 L668.0 420.8 L677.5 432.3 L667.0 448.0 L652.3 439.6 Z"/>
<path class="t" style="stroke-width:1.05" d="M660.7 428.1 L668.0 425.0 L673.9 432.9 L666.4 443.8 L656.5 438.0 Z"/>
<path class="t" style="stroke-width:1.05" d="M632.4 429.2 L642.9 448.0 L647.1 458.5 L652.3 439.6"/>
<path class="m" style="stroke-width:1.5" d="M636.6 433.4 L640.8 439.6 L638.7 443.8 L642.9 452.2"/>
<ellipse class="m" style="stroke-width:1.4" cx="611.4" cy="329.4" rx="8.7" ry="10.9" transform="rotate(0 611.4 329.4)"/>
<ellipse class="t" style="stroke-width:1.05" cx="613.0" cy="328.3" rx="3.8" ry="4.6" transform="rotate(0 613.0 328.3)"/>
<path class="t" style="stroke-width:0.8" d="M616.8 328.3 L620.1 329.4"/>
<path class="t" style="stroke-width:0.8" d="M616.5 330.1 L619.4 333.6"/>
<path class="t" style="stroke-width:0.8" d="M615.7 331.6 L617.5 337.1"/>
<path class="t" style="stroke-width:0.8" d="M614.4 332.6 L614.7 339.5"/>
<path class="t" style="stroke-width:0.8" d="M613.0 332.9 L611.4 340.3"/>
<path class="t" style="stroke-width:0.8" d="M611.5 332.6 L608.0 339.5"/>
<path class="t" style="stroke-width:0.8" d="M610.3 331.6 L605.2 337.1"/>
<path class="t" style="stroke-width:0.8" d="M609.5 330.1 L603.3 333.6"/>
<path class="t" style="stroke-width:0.8" d="M609.2 328.3 L602.6 329.4"/>
<path class="t" style="stroke-width:0.8" d="M609.5 326.6 L603.3 325.3"/>
<path class="t" style="stroke-width:0.8" d="M610.3 325.1 L605.2 321.7"/>
<path class="t" style="stroke-width:0.8" d="M611.5 324.1 L608.0 319.4"/>
<path class="t" style="stroke-width:0.8" d="M613.0 323.8 L611.4 318.5"/>
<path class="t" style="stroke-width:0.8" d="M614.4 324.1 L614.7 319.4"/>
<path class="t" style="stroke-width:0.8" d="M615.7 325.1 L617.5 321.7"/>
<path class="t" style="stroke-width:0.8" d="M616.5 326.6 L619.4 325.3"/>
<ellipse class="m" style="stroke-width:1.4" cx="615.5" cy="392.3" rx="5.7" ry="7.1" transform="rotate(0 615.5 392.3)"/>
<ellipse class="t" style="stroke-width:1.05" cx="616.6" cy="391.6" rx="2.5" ry="3.0" transform="rotate(0 616.6 391.6)"/>
<path class="t" style="stroke-width:0.8" d="M619.1 391.6 L621.2 392.3"/>
<path class="t" style="stroke-width:0.8" d="M618.8 393.1 L620.5 395.9"/>
<path class="t" style="stroke-width:0.8" d="M617.9 394.2 L618.4 398.5"/>
<path class="t" style="stroke-width:0.8" d="M616.6 394.6 L615.5 399.4"/>
<path class="t" style="stroke-width:0.8" d="M615.4 394.2 L612.7 398.5"/>
<path class="t" style="stroke-width:0.8" d="M614.5 393.1 L610.6 395.9"/>
<path class="t" style="stroke-width:0.8" d="M614.1 391.6 L609.8 392.3"/>
<path class="t" style="stroke-width:0.8" d="M614.5 390.1 L610.6 388.7"/>
<path class="t" style="stroke-width:0.8" d="M615.4 389.0 L612.7 386.1"/>
<path class="t" style="stroke-width:0.8" d="M616.6 388.6 L615.5 385.2"/>
<path class="t" style="stroke-width:0.8" d="M617.9 389.0 L618.4 386.1"/>
<path class="t" style="stroke-width:0.8" d="M618.8 390.1 L620.5 388.7"/>
<ellipse class="m" style="stroke-width:1.4" cx="617.0" cy="411.6" rx="4.7" ry="5.9" transform="rotate(0 617.0 411.6)"/>
<ellipse class="t" style="stroke-width:1.05" cx="617.9" cy="411.0" rx="2.1" ry="2.5" transform="rotate(0 617.9 411.0)"/>
<path class="t" style="stroke-width:0.8" d="M619.9 411.0 L621.7 411.6"/>
<path class="t" style="stroke-width:0.8" d="M619.6 412.4 L620.8 415.0"/>
<path class="t" style="stroke-width:0.8" d="M618.5 413.3 L618.5 417.2"/>
<path class="t" style="stroke-width:0.8" d="M617.3 413.3 L615.6 417.2"/>
<path class="t" style="stroke-width:0.8" d="M616.2 412.4 L613.2 415.0"/>
<path class="t" style="stroke-width:0.8" d="M615.8 411.0 L612.3 411.6"/>
<path class="t" style="stroke-width:0.8" d="M616.2 409.6 L613.2 408.1"/>
<path class="t" style="stroke-width:0.8" d="M617.3 408.7 L615.6 406.0"/>
<path class="t" style="stroke-width:0.8" d="M618.5 408.7 L618.5 406.0"/>
<path class="t" style="stroke-width:0.8" d="M619.6 409.6 L620.8 408.1"/>
<path class="t" style="stroke-width:1.05" d="M611.4 419.7 L627.2 414.9 L629.3 419.7 L613.5 423.9 Z"/>
<path class="t" style="stroke-width:1.05" d="M607.2 205.8 C606.8 209.3,605.6 219.7,605.1 226.7 C604.5 233.7,605.1 238.9,604.0 247.7 C603.0 256.4,600.2 270.4,598.8 279.1 C597.4 287.9,595.6 292.0,595.6 300.1 C595.6 308.1,597.7 318.6,598.8 327.3 C599.8 336.1,600.9 343.0,601.9 352.5 C603.0 361.9,604.0 372.7,605.1 383.9 C606.1 395.2,607.0 411.2,608.2 420.0 C609.4 428.7,611.7 433.6,612.4 436.3"/>
<path class="t" style="stroke-width:1.05" d="M633.4 207.9 C632.9 211.0,631.5 221.5,630.8 226.7 C630.1 232.0,629.8 232.3,629.2 239.3 C628.5 246.3,627.4 260.3,627.1 268.6 C626.7 277.0,626.4 282.6,627.1 289.6 C627.8 296.6,629.5 302.5,631.3 310.6 C633.0 318.6,635.5 329.1,637.6 337.8 C639.6 346.5,641.4 349.3,643.8 363.0 C646.3 376.7,650.3 407.7,652.2 420.0 C654.1 432.2,654.8 433.6,655.4 436.3"/>
<path class="t" style="stroke-width:0.8" d="M605.1 243.5 L629.2 240.3"/>
<path class="t" style="stroke-width:0.8" d="M601.9 270.7 L627.1 266.5"/>
<path class="t" style="stroke-width:0.8" d="M595.6 300.1 C598.4 301.5,606.8 306.4,612.4 308.5 C618.0 310.6,626.4 312.0,629.2 312.7"/>
<path class="t" style="stroke-width:0.8" d="M622.9 216.2 C622.5 225.0,620.8 252.9,620.8 268.6 C620.8 284.4,620.8 296.6,622.9 310.6 C625.0 324.5,629.9 335.0,633.4 352.5 C636.9 369.9,642.1 404.9,643.8 415.4"/>
<path class="t" style="stroke-width:0.8" d="M599.8 352.5 C603.0 351.8,612.2 350.0,618.7 348.3 C625.2 346.5,635.3 343.0,638.6 342.0"/>
<path class="t" style="stroke-width:1.05" d="M633.4 207.9 C633.8 213.1,635.0 229.2,635.9 239.3 C636.7 249.4,637.1 258.5,638.6 268.6 C640.1 278.8,642.6 289.6,644.9 300.1 C647.2 310.6,649.3 319.3,652.2 331.5 C655.2 343.7,660.6 358.7,662.7 373.4 C664.8 388.2,664.6 409.5,664.8 420.0 C665.0 430.5,663.9 433.6,663.8 436.3"/>
<path class="t" style="stroke-width:1.05" d="M635.9 208.9 C636.7 218.9,637.6 248.2,640.7 268.6 C643.8 289.1,650.3 314.1,654.3 331.5 C658.3 349.0,663.1 366.5,664.8 373.4"/>
<path class="m" style="stroke-width:1.6" d="M710.9 178.5 C711.3 183.8,712.1 199.8,713.0 210.0 C713.9 220.1,713.7 226.0,716.2 239.3 C718.6 252.6,724.0 272.5,727.7 289.6 C731.3 306.7,735.9 326.3,738.2 342.0 C740.4 357.7,741.1 374.5,741.3 383.9 C741.5 393.4,739.6 396.1,739.2 398.6"/>
<path class="t" style="stroke-width:1.05" d="M716.2 177.5 C716.5 182.9,717.4 199.6,718.2 210.0 C719.1 220.3,718.9 226.0,721.4 239.3 C723.8 252.6,729.4 272.5,732.9 289.6 C736.5 306.7,740.7 326.6,742.8 342.0 C744.9 357.4,745.4 373.1,745.5 381.8 C745.6 390.6,743.7 392.3,743.4 394.4"/>
<path class="t" style="stroke-width:1.05" d="M721.4 175.4 C722.4 178.7,724.9 188.5,727.7 195.3 C730.5 202.1,732.9 208.9,738.2 216.2 C743.4 223.6,753.9 231.6,759.1 239.3 C764.4 247.0,766.8 254.0,769.6 262.4 C772.4 270.7,774.1 281.6,775.9 289.6 C777.6 297.6,778.3 301.8,780.1 310.6 C781.8 319.3,784.6 333.3,786.4 342.0 C788.1 350.7,790.0 357.7,790.6 363.0 C791.1 368.2,793.0 370.1,789.5 373.4 C786.0 376.8,777.1 379.4,769.6 382.9 C762.1 386.4,748.6 392.5,744.4 394.4"/>
<path class="t" style="stroke-width:0.8" d="M722.4 184.8 C724.4 190.4,728.6 208.6,734.0 218.3 C739.4 228.1,749.9 235.8,754.9 243.5 C760.0 251.2,760.9 253.3,764.4 264.4 C767.9 275.6,772.4 294.5,775.9 310.6 C779.4 326.6,783.7 352.5,785.3 360.9"/>
<path class="t" style="stroke-width:0.8" d="M727.7 272.8 C731.2 272.1,742.0 269.9,748.6 268.6 C755.3 267.4,764.4 266.0,767.5 265.5"/>
<path class="t" style="stroke-width:0.8" d="M742.4 344.1 C745.5 343.6,754.6 342.0,761.2 341.0 C767.9 339.9,778.7 338.3,782.2 337.8"/>
<path class="t" style="stroke-width:1.05" d="M742.4 351.4 L775.9 346.2 L778.0 360.9 L746.5 367.2"/>
<path class="t" style="stroke-width:0.8" d="M744.4 354.6 L772.7 350.0 L774.2 359.8"/>
<path class="m" style="stroke-width:2" d="M638.6 269.7 C645.1 267.1,664.8 259.0,677.4 254.0 C690.0 249.0,707.9 242.1,714.1 239.7"/>
<path class="t" style="stroke-width:1.05" d="M639.2 266.5 L714.1 236.8"/>
<path class="t" style="stroke-width:0.8" d="M650.1 313.7 C656.1 311.4,673.2 305.0,685.8 300.1 C698.3 295.2,718.9 287.0,725.6 284.4"/>
<path class="t" style="stroke-width:0.8" d="M664.8 390.2 C670.4 387.8,686.5 380.4,698.3 375.5 C710.2 370.6,729.8 363.3,736.1 360.9"/>
<path class="t" style="stroke-width:0.8" d="M673.2 191.1 C673.9 200.5,675.3 229.5,677.4 247.7 C679.5 265.8,682.3 280.9,685.8 300.1 C689.3 319.3,696.1 343.0,698.3 363.0 C700.6 382.9,699.2 410.5,699.4 420.0"/>
<path class="t" style="stroke-width:0.8" d="M656.4 352.5 C662.7 350.0,681.0 343.0,694.1 337.8 C707.2 332.6,728.2 323.8,735.0 321.0"/>
<path class="t" style="stroke-width:0.8" d="M643.8 289.6 C650.1 287.2,668.6 279.8,681.6 274.9 C694.5 270.0,714.8 262.7,721.4 260.3"/>
<path class="t" style="stroke-width:1.05" d="M607.2 205.8 L615.5 201.6 L632.3 194.9 L694.1 169.1 L721.4 175.4"/>
<path class="t" style="stroke-width:1.05" d="M607.8 206.4 L625.0 214.1 L633.8 208.3"/>
<path class="t" style="stroke-width:1.05" d="M615.5 201.6 L633.4 207.9"/>
<path class="t" style="stroke-width:1.05" d="M633.4 207.9 C639.6 204.7,658.2 193.9,671.1 189.0 C684.0 184.1,704.3 180.3,710.9 178.5"/>
<path class="t" style="stroke-width:1.05" d="M694.1 169.1 L710.9 178.5 L721.4 175.4"/>
<path class="m" style="stroke-width:1.6" d="M694.1 170.1 L714.1 172.2"/>
<path class="t" style="stroke-width:0.8" d="M632.3 194.9 C638.4 193.2,655.9 187.5,669.0 184.8 C682.1 182.1,703.9 179.6,710.9 178.5"/>
<path class="t" style="stroke-width:1.05" d="M653.4 429.2 C656.9 427.8,660.7 427.1,674.3 420.8 C687.9 414.5,723.9 398.1,735.1 391.4 C746.3 384.8,740.3 382.7,741.4 381.0"/>
<path class="t" style="stroke-width:1.05" d="M672.2 422.9 L734.1 395.6"/>
<path class="t" style="stroke-width:1.05" d="M758.2 391.4 L764.4 381.0 L774.9 378.9 L781.2 391.4 L787.5 399.8"/>
<path class="m" style="stroke-width:1.5" d="M764.4 381.0 L766.5 414.5 L769.7 427.1"/>
<path class="t" style="stroke-width:1.05" d="M774.9 378.9 L779.1 395.6 L789.6 401.9"/>
<path class="w" style="stroke-width:1.05" d="M609.3 172.2 C608.9 165.2,611.5 152.7,614.5 142.9 C617.5 133.1,621.5 121.4,627.1 113.5 C632.7 105.7,639.6 99.8,648.0 95.7 C656.4 91.6,669.0 89.3,677.4 88.8 C685.8 88.3,692.7 89.5,698.3 92.6 C703.9 95.7,708.1 101.3,710.9 107.2 C713.7 113.2,715.1 121.9,715.1 128.2 C715.1 134.5,712.7 140.8,710.9 145.0 C709.2 149.2,711.6 149.3,704.6 153.4 C697.6 157.4,680.9 163.8,669.0 169.1 C657.1 174.3,642.1 182.2,633.4 184.8 C624.6 187.4,620.6 186.9,616.6 184.8 C612.6 182.7,609.6 179.2,609.3 172.2 Z"/>
<path class="t" style="stroke-width:0.8" d="M662.7 94.7 C663.8 99.2,667.8 110.4,669.0 121.9 C670.2 133.4,669.9 156.9,670.0 163.8"/>
<path class="t" style="stroke-width:0.8" d="M643.8 151.3 C648.4 148.6,659.4 139.9,671.1 135.5 C682.8 131.2,706.9 126.8,714.1 125.1"/>
<path class="t" style="stroke-width:0.8" d="M641.7 107.2 C641.6 113.2,641.6 130.7,640.7 142.9 C639.8 155.1,637.2 174.3,636.5 180.6"/>
<path class="t" style="stroke-width:0.8" d="M648.0 95.7 L642.8 105.2"/>
<path class="t" style="stroke-width:1.05" d="M632.3 184.8 L632.7 194.2"/>
<path class="t" style="stroke-width:1.05" d="M638.6 182.7 L639.0 194.2"/>
<ellipse class="t" style="stroke-width:1.05" cx="635.9" cy="194.9" rx="3.8" ry="1.5" transform="rotate(0 635.9 194.9)"/>
<path class="t" style="stroke-width:1.05" d="M676.3 164.9 L676.7 174.7"/>
<path class="t" style="stroke-width:1.05" d="M683.2 162.2 L683.7 174.7"/>
<ellipse class="t" style="stroke-width:1.05" cx="680.1" cy="175.4" rx="3.8" ry="1.5" transform="rotate(0 680.1 175.4)"/>
<g transform="translate(678.4 223.6) rotate(-19) skewX(-20)"><text x="0" y="7.5" font-family="Liberation Sans,sans-serif" font-weight="700" font-size="24" text-anchor="middle" fill="#fff" stroke="#222" stroke-width="0.9" textLength="60" lengthAdjust="spacingAndGlyphs">LGMG</text></g>
</g>
<g id="p9_15">
<path class="w" style="stroke-width:1.55" d="M1420.7 1047.7 L1420.7 1086.5 L1423.9 1088.4 L1423.9 1097.5 L1431.7 1098.8 L1432.4 1094.3 L1432.4 1052.8"/>
<path class="w" style="stroke-width:1.55" d="M1446.0 1039.9 L1446.0 1109.8 L1451.1 1111.1 L1451.1 1042.5"/>
<path class="w" style="stroke-width:1.55" d="M1476.4 1071.0 L1476.4 1102.0 L1480.3 1105.3 L1480.3 1120.8 L1493.2 1122.1 L1493.5 1105.3 L1496.4 1102.0 L1496.4 1068.4"/>
<path class="t"  d="M1476.4 1102.0 C1477.9 1102.7,1482.1 1105.9,1485.4 1105.9 C1488.8 1105.9,1494.6 1102.7,1496.4 1102.0"/>
<path class="t"  d="M1480.3 1120.8 C1481.3 1121.1,1484.6 1122.6,1486.7 1122.8 C1488.9 1122.9,1492.1 1121.9,1493.2 1121.7"/>
<ellipse class="t"  cx="1474.4" cy="1097.5" rx="1.3" ry="2.8" transform="rotate(0 1474.4 1097.5)"/>
<path class="w" style="stroke-width:1.8" d="M1407.1 1098.2 L1425.9 1097.5 L1434.3 1100.7 L1434.3 1122.8 L1420.7 1147.3 L1407.8 1143.5 Z"/>
<path class="t"  d="M1414.9 1100.7 L1414.9 1146.1"/>
<path class="t"  d="M1407.1 1098.2 L1414.9 1100.7 L1434.3 1100.7"/>
<path class="w" style="stroke-width:1.8" d="M1434.3 1111.1 L1434.3 1155.8 L1448.5 1161.6 L1463.4 1142.2 L1463.4 1091.7 L1444.7 1113.7 Z"/>
<path class="t"  d="M1444.7 1113.7 L1444.7 1159.6"/>
<path class="t"  d="M1434.3 1111.1 L1444.7 1113.7"/>
<path class="t" style="stroke-width:1.8" d="M1445.3 1099.4 C1445.5 1096.9,1445.5 1088.2,1446.6 1083.9 C1447.7 1079.6,1449.2 1076.1,1451.8 1073.6 C1454.4 1071.0,1460.4 1069.2,1462.1 1068.4"/>
<path class="t" style="stroke-width:1.55" d="M1455.7 1099.4 C1455.8 1097.3,1455.7 1090.0,1456.3 1086.5 C1457.0 1083.1,1458.1 1080.9,1459.5 1078.7 C1460.9 1076.6,1463.9 1074.4,1464.7 1073.6"/>
<path class="m" style="stroke-width:1.8" d="M1429.8 1052.8 L1434.3 1111.1"/>
<path class="t" style="stroke-width:1.8" d="M1433.7 1111.1 L1463.4 1086.5"/>
<path class="t"  d="M1436.2 1113.0 L1464.7 1089.7"/>
<path class="t" style="stroke-width:1.8" d="M1463.4 1086.5 L1468.6 1121.5"/>
<path class="t"  d="M1465.4 1086.5 L1470.6 1121.5"/>
<ellipse class="w" style="stroke-width:1.55" cx="1442.5" cy="1082.9" rx="2.8" ry="3.6" transform="rotate(20 1442.5 1082.9)"/>
<path class="t"  d="M1440.1 1080.0 L1444.7 1081.3"/>
<path class="w" style="stroke-width:1.8" d="M1464.7 1121.5 L1477.7 1120.8 L1493.2 1124.0 L1496.4 1133.1 L1480.3 1168.1 L1465.4 1164.2 Z"/>
<path class="t"  d="M1477.7 1123.4 L1477.7 1167.4"/>
<path class="t"  d="M1464.7 1121.5 L1477.7 1123.4 L1493.2 1124.0"/>
<path class="w" style="stroke-width:1.55" d="M1490.6 1131.2 L1499.0 1132.8 L1501.6 1135.0 L1499.7 1137.2 L1491.3 1135.7 Z"/>
<ellipse class="t"  cx="1411.4" cy="1105.9" rx="1.2" ry="1.6" transform="rotate(0 1411.4 1105.9)"/>
<ellipse class="t"  cx="1411.4" cy="1138.9" rx="1.2" ry="1.6" transform="rotate(0 1411.4 1138.9)"/>
<ellipse class="t"  cx="1440.1" cy="1117.6" rx="1.2" ry="1.6" transform="rotate(0 1440.1 1117.6)"/>
<ellipse class="t"  cx="1440.1" cy="1151.2" rx="1.2" ry="1.6" transform="rotate(0 1440.1 1151.2)"/>
<ellipse class="t"  cx="1468.6" cy="1130.5" rx="1.2" ry="1.6" transform="rotate(0 1468.6 1130.5)"/>
<ellipse class="t"  cx="1468.6" cy="1163.5" rx="1.2" ry="1.6" transform="rotate(0 1468.6 1163.5)"/>
<path class="w" style="stroke-width:1.8" d="M1411.7 1021.8 L1431.1 1013.4 L1460.8 1025.7 L1462.1 1028.3 L1480.9 1027.0 L1495.8 1033.4 L1496.4 1039.9 L1502.3 1044.4 L1499.7 1047.7 L1482.8 1054.1 L1462.1 1046.4 L1462.1 1060.6 L1420.7 1047.7 L1411.0 1037.3 Z"/>
<path class="t"  d="M1411.7 1021.8 L1462.1 1040.6 L1462.1 1046.4"/>
<path class="t"  d="M1414.2 1027.0 L1462.1 1046.4"/>
<path class="t"  d="M1422.0 1017.6 L1460.2 1032.1"/>
<path class="t"  d="M1421.4 1018.2 L1422.0 1027.0"/>
<path class="t"  d="M1433.7 1014.7 L1433.9 1021.1"/>
<path class="t"  d="M1480.9 1030.8 L1495.1 1036.7 L1495.8 1033.4"/>
<path class="t"  d="M1482.8 1042.5 L1499.7 1047.7"/>
<path class="t"  d="M1485.4 1046.4 L1496.4 1040.6"/>
<ellipse class="t"  cx="1482.8" cy="1035.4" rx="1.6" ry="1.2" transform="rotate(0 1482.8 1035.4)"/>
<ellipse class="t"  cx="1487.4" cy="1044.8" rx="1.3" ry="0.9" transform="rotate(0 1487.4 1044.8)"/>
<path class="w" style="stroke-width:1.8" d="M1482.2 1052.8 C1485.1 1051.8,1496.6 1046.4,1499.7 1046.4 C1502.8 1046.4,1500.7 1050.4,1500.7 1052.8 C1500.8 1055.3,1500.8 1059.1,1499.9 1061.3 C1499.1 1063.5,1498.6 1064.5,1495.8 1066.1 C1492.9 1067.6,1485.0 1069.9,1482.8 1070.7"/>
<path class="t"  d="M1484.1 1054.8 L1484.1 1069.7"/>
<ellipse class="m" style="stroke-width:1.55" cx="1493.5" cy="1059.7" rx="1.3" ry="1.7" transform="rotate(0 1493.5 1059.7)"/>
<path class="w" style="stroke-width:1.8" d="M1436.9 993.3 L1453.7 985.5 L1479.0 995.9 L1479.6 1024.4 L1462.1 1028.3 L1437.5 1018.5 Z"/>
<path class="t" style="stroke-width:1.8" d="M1436.9 993.3 L1462.1 1003.0 L1479.0 995.9"/>
<path class="t" style="stroke-width:1.8" d="M1462.1 1003.0 L1462.1 1028.3"/>
<path class="t"  d="M1464.7 1004.7 L1477.0 999.5 L1477.7 1022.4"/>
<path class="t" style="stroke-width:1.55" d="M1433.7 1014.7 L1437.5 1018.5 L1460.8 1026.3"/>
<ellipse class="t"  cx="1441.4" cy="1001.7" rx="1.6" ry="1.9" transform="rotate(0 1441.4 1001.7)"/>
<ellipse class="t"  cx="1457.0" cy="1008.8" rx="1.6" ry="1.9" transform="rotate(0 1457.0 1008.8)"/>
<ellipse class="t"  cx="1441.2" cy="1014.0" rx="1.6" ry="1.9" transform="rotate(0 1441.2 1014.0)"/>
<ellipse class="t"  cx="1456.3" cy="1019.8" rx="1.6" ry="1.9" transform="rotate(0 1456.3 1019.8)"/>
<ellipse class="t"  cx="1474.4" cy="1003.0" rx="1.6" ry="1.9" transform="rotate(0 1474.4 1003.0)"/>
<ellipse class="t"  cx="1473.8" cy="1015.3" rx="1.6" ry="1.9" transform="rotate(0 1473.8 1015.3)"/>
<path class="w" style="stroke-width:1.8" d="M1464.1 1022.4 C1464.6 1019.1,1465.6 1021.3,1466.7 1021.1 C1467.7 1020.9,1468.7 1020.6,1470.6 1021.1 C1472.4 1021.7,1476.2 1023.2,1477.7 1024.4 C1479.2 1025.6,1479.2 1021.1,1479.6 1028.3 C1480.0 1035.4,1480.7 1060.1,1480.3 1067.1 C1479.8 1074.0,1479.2 1070.0,1477.0 1069.9 C1474.9 1069.8,1469.5 1068.0,1467.3 1066.4 C1465.1 1064.9,1464.3 1064.8,1463.7 1060.6 C1463.1 1056.4,1463.6 1047.6,1463.7 1041.2 C1463.8 1034.8,1463.6 1025.8,1464.1 1022.4 Z"/>
<ellipse class="m" style="stroke-width:1.8" cx="1470.9" cy="1030.6" rx="3.2" ry="3.6" transform="rotate(0 1470.9 1030.6)"/>
<path class="t"  d="M1469.3 1028.3 L1472.8 1032.9"/>
<path class="t"  d="M1601.7 951.0 L1601.7 963.8 L1604.6 963.8 L1604.6 952.0"/>
<path class="w" style="stroke-width:1.55" d="M1595.7 932.3 L1599.7 930.9 L1618.4 939.2 L1618.4 957.9 L1614.5 958.9 L1596.7 951.0 Z"/>
<path class="t"  d="M1595.7 932.3 L1614.5 940.2 L1614.5 958.9"/>
<path class="t"  d="M1614.5 940.2 L1618.4 939.2"/>
<ellipse class="t"  cx="1599.1" cy="936.2" rx="1.0" ry="1.4" transform="rotate(0 1599.1 936.2)"/>
<ellipse class="t"  cx="1612.1" cy="942.1" rx="1.0" ry="1.4" transform="rotate(0 1612.1 942.1)"/>
<ellipse class="t"  cx="1599.1" cy="948.1" rx="1.0" ry="1.4" transform="rotate(0 1599.1 948.1)"/>
<ellipse class="t"  cx="1612.1" cy="954.0" rx="1.0" ry="1.4" transform="rotate(0 1612.1 954.0)"/>
<path class="t" style="stroke-width:1.55" d="M1618.4 944.1 C1619.1 944.3,1621.5 944.3,1622.4 945.1 C1623.3 945.9,1623.7 943.5,1624.0 949.0 C1624.2 954.6,1624.0 973.7,1624.0 978.6"/>
<path class="t"  d="M1620.8 948.1 L1620.8 978.6"/>
<path class="w" style="stroke-width:1.55" d="M1590.8 961.9 L1595.7 959.9 L1604.6 963.8 L1604.6 992.4 L1599.7 994.4 L1590.8 989.5 Z"/>
<path class="t"  d="M1590.8 961.9 L1599.7 965.8 L1599.7 994.4"/>
<path class="t"  d="M1599.7 965.8 L1604.6 963.8"/>
<path class="w" style="stroke-width:1.55" d="M1606.6 969.8 L1616.5 973.7 L1616.5 996.4 L1606.6 992.4 Z"/>
<path class="t"  d="M1604.6 966.8 L1606.6 969.8"/>
<path class="t"  d="M1616.5 974.7 L1618.8 974.3 L1618.8 995.4 L1616.5 996.4"/>
<ellipse class="t"  cx="1594.8" cy="969.8" rx="1.2" ry="1.6" transform="rotate(0 1594.8 969.8)"/>
<ellipse class="t"  cx="1594.8" cy="981.6" rx="1.2" ry="1.6" transform="rotate(0 1594.8 981.6)"/>
<ellipse class="t"  cx="1610.9" cy="976.7" rx="1.2" ry="1.6" transform="rotate(0 1610.9 976.7)"/>
<ellipse class="t"  cx="1610.9" cy="988.5" rx="1.2" ry="1.6" transform="rotate(0 1610.9 988.5)"/>
<path class="w" style="stroke-width:1.55" d="M1617.4 986.5 L1625.3 988.1 L1626.7 993.4 L1624.0 998.4 L1617.4 997.4 Z"/>
<path class="w" style="stroke-width:1.55" d="M1618.4 998.0 L1625.3 998.8 L1628.7 1025.6 L1623.8 1027.2 Z"/>
<path class="t"  d="M1621.4 998.4 L1625.9 1026.4"/>
<path class="w" style="stroke-width:1.55" d="M1626.7 920.0 L1641.1 914.1 L1642.1 919.1 L1627.7 925.0 Z"/>
<ellipse class="w"  cx="1626.7" cy="922.4" rx="1.0" ry="2.6" transform="rotate(-22 1626.7 922.4)"/>
<ellipse class="w" style="stroke-width:1.55" cx="1644.1" cy="916.7" rx="3.4" ry="3.9" transform="rotate(0 1644.1 916.7)"/>
<ellipse class="t"  cx="1644.5" cy="916.7" rx="1.8" ry="2.2" transform="rotate(0 1644.5 916.7)"/>
<path class="w" style="stroke-width:1.55" d="M1536.6 1134.5 L1554.3 1126.6 L1555.3 1131.5 L1537.5 1139.4 Z"/>
<ellipse class="w"  cx="1537.0" cy="1136.9" rx="1.0" ry="2.6" transform="rotate(-22 1537.0 1136.9)"/>
<ellipse class="w" style="stroke-width:1.55" cx="1557.7" cy="1128.6" rx="3.4" ry="4.1" transform="rotate(0 1557.7 1128.6)"/>
<ellipse class="t"  cx="1558.1" cy="1128.6" rx="1.8" ry="2.2" transform="rotate(0 1558.1 1128.6)"/>
<path class="w" style="stroke-width:1.55" d="M1517.8 1007.2 L1540.5 998.0 L1542.5 1003.3 L1519.4 1013.2 Z"/>
<ellipse class="w" style="stroke-width:1.55" cx="1518.4" cy="1010.2" rx="1.4" ry="3.0" transform="rotate(-22 1518.4 1010.2)"/>
<path class="w" style="stroke-width:1.55" d="M1538.5 998.4 C1539.0 998.0,1540.5 996.4,1541.5 996.4 C1542.5 996.4,1544.0 997.2,1544.5 998.4 C1544.9 999.5,1544.8 1002.1,1544.5 1003.3 C1544.1 1004.4,1542.8 1004.9,1542.5 1005.3"/>
<path class="t"  d="M1520.8 920.4 C1520.6 920.8,1519.4 921.5,1519.4 922.4 C1519.4 923.3,1520.6 923.0,1520.8 925.8 C1520.9 928.6,1520.0 936.4,1520.2 939.2 C1520.4 942.0,1521.5 942.1,1521.8 942.7"/>
<path class="t"  d="M1522.8 920.4 C1523.0 920.9,1524.2 922.0,1524.1 923.0 C1524.1 924.0,1522.8 924.0,1522.6 926.4 C1522.4 928.7,1522.7 934.4,1523.0 937.2 C1523.2 940.0,1524.1 942.1,1524.3 943.1"/>
<ellipse class="w" style="stroke-width:1.8" cx="1386.2" cy="1065.4" rx="5.5" ry="6.5" transform="rotate(0 1386.2 1065.4)"/>
<ellipse class="t"  cx="1386.2" cy="1065.4" rx="2.8" ry="3.4" transform="rotate(0 1386.2 1065.4)"/>
</g>
<g id="p25_31">
<path d="M544.7 1360.6 L544.7 1316 C544.7 1307,548 1306,553 1308 L558 1310 C562 1312,562.6 1316,562.6 1321 L562.6 1367" fill="none" stroke="#111" stroke-width="4.6" stroke-linecap="butt" stroke-linejoin="round"/>
<path d="M544.7 1360.6 L544.7 1316 C544.7 1307,548 1306,553 1308 L558 1310 C562 1312,562.6 1316,562.6 1321 L562.6 1367" fill="none" stroke="#fff" stroke-width="2.0" stroke-linecap="butt" stroke-linejoin="round"/>
<path class="t"  d="M543.0 1345.3 L546.3 1345.3"/>
<path class="t"  d="M561.1 1345.3 L564.2 1345.3"/>
<path class="w" style="stroke-width:1.55" d="M637.8 1398.7 L641.0 1397.6 L661.7 1407.4 L662.8 1430.3 L658.5 1434.6 L637.8 1424.8 Z"/>
<path class="t"  d="M637.8 1398.7 L658.5 1408.5 L658.5 1434.6"/>
<path class="t"  d="M658.5 1408.5 L661.7 1407.4"/>
<ellipse class="t"  cx="641.7" cy="1404.6" rx="1.1" ry="1.3" transform="rotate(0 641.7 1404.6)"/>
<ellipse class="t"  cx="655.6" cy="1410.7" rx="1.1" ry="1.3" transform="rotate(0 655.6 1410.7)"/>
<ellipse class="t"  cx="641.7" cy="1422.6" rx="1.1" ry="1.3" transform="rotate(0 641.7 1422.6)"/>
<ellipse class="t"  cx="655.6" cy="1429.2" rx="1.1" ry="1.3" transform="rotate(0 655.6 1429.2)"/>
<path class="w" style="stroke-width:1.55" d="M548.5 1412.8 L569.2 1420.5 L569.2 1439.0 L548.5 1431.4 Z"/>
<path class="t"  d="M550.2 1415.5 L567.2 1422.0 L567.2 1436.4 L550.2 1429.8 Z"/>
<path class="t" style="stroke-width:1.55" d="M552.8 1421.6 L558.3 1423.3 L558.3 1430.3 L555.0 1429.4 L555.0 1426.3"/>
<ellipse class="t"  cx="551.8" cy="1417.2" rx="0.7" ry="0.9" transform="rotate(0 551.8 1417.2)"/>
<ellipse class="t"  cx="565.5" cy="1422.6" rx="0.7" ry="0.9" transform="rotate(0 565.5 1422.6)"/>
<ellipse class="t"  cx="551.8" cy="1428.1" rx="0.7" ry="0.9" transform="rotate(0 551.8 1428.1)"/>
<ellipse class="t"  cx="565.5" cy="1434.2" rx="0.7" ry="0.9" transform="rotate(0 565.5 1434.2)"/>
<path class="w" style="stroke-width:1.55" d="M548.5 1440.1 L561.6 1444.4 L561.6 1473.8 L548.5 1469.5 Z"/>
<path class="t"  d="M550.2 1442.9 L559.8 1446.2 L559.8 1465.1"/>
<path class="m" style="stroke-width:1.55" d="M550.7 1454.2 L557.2 1445.5"/>
<path class="m" style="stroke-width:1.55" d="M552.8 1456.4 L559.4 1447.7"/>
<path class="m" style="stroke-width:1.8" d="M538.7 1464.0 L550.7 1467.3 L559.4 1462.9 L552.8 1458.6 L542.0 1461.8 Z"/>
<path class="m" style="stroke-width:1.55" d="M540.9 1469.5 L546.3 1471.6 L547.4 1467.3"/>
<path class="w" style="stroke-width:1.55" d="M563.7 1445.5 L572.4 1447.7 L575.1 1452.0 L575.1 1471.6 L570.3 1474.9 L563.7 1471.6 Z"/>
<path class="t"  d="M572.4 1447.7 L572.4 1473.4"/>
<ellipse class="t"  cx="568.7" cy="1454.2" rx="1.1" ry="1.5" transform="rotate(0 568.7 1454.2)"/>
<ellipse class="t"  cx="568.7" cy="1467.3" rx="1.1" ry="1.5" transform="rotate(0 568.7 1467.3)"/>
<path class="w" style="stroke-width:1.55" d="M544.1 1480.3 L549.6 1481.4 L544.1 1520.6 L537.6 1519.5 Z"/>
<path class="t"  d="M546.7 1480.8 L540.9 1520.0"/>
<path class="w" style="stroke-width:1.55" d="M559.4 1476.0 L565.9 1477.1 L566.3 1483.6 L560.5 1484.7 Z"/>
<path class="w" style="stroke-width:1.55" d="M462.9 1515.3 L487.6 1503.7 L484.4 1496.9 L459.7 1508.5 Z"/>
<ellipse class="w" cx="486.0" cy="1500.3" rx="1.6" ry="3.8" transform="rotate(-25.1 486.0 1500.3)"/>
<path class="w" style="stroke-width:1.55" d="M462.0 1517.5 L456.7 1521.2 L451.3 1517.8 L451.2 1510.7 L456.5 1507.0 L461.9 1510.4 Z"/>
<path class="t"  d="M458.7 1506.0 L464.1 1509.4 L464.2 1516.5 L458.9 1520.2"/>
<path class="w" style="stroke-width:1.55" d="M647.3 1516.5 L673.1 1504.4 L669.9 1497.6 L644.1 1509.6 Z"/>
<ellipse class="w" cx="671.5" cy="1501.0" rx="1.6" ry="3.8" transform="rotate(-25.0 671.5 1501.0)"/>
<path class="w" style="stroke-width:1.55" d="M646.4 1518.6 L641.1 1522.3 L635.7 1518.9 L635.6 1511.8 L640.9 1508.1 L646.3 1511.5 Z"/>
<path class="t"  d="M643.1 1507.1 L648.5 1510.5 L648.6 1517.6 L643.3 1521.3"/>
<path class="w" style="stroke-width:1.55" d="M709.6 1371.5 L709.6 1432.4 L712.9 1436.8 L724.9 1440.1 L727.1 1436.8 L727.1 1375.8"/>
<path class="t"  d="M714.4 1373.6 L714.4 1435.7"/>
<path class="t"  d="M709.6 1412.8 C710.9 1413.4,714.4 1415.7,717.3 1416.1 C720.2 1416.5,725.4 1415.2,727.1 1415.0"/>
<path class="w" style="stroke-width:1.55" d="M707.5 1358.4 L711.8 1371.5 L723.8 1375.8 L727.1 1367.1"/>
<path class="t"  d="M711.8 1362.8 C712.9 1363.3,716.2 1365.3,718.3 1366.0 C720.5 1366.7,723.8 1366.9,724.9 1367.1"/>
<path class="w" style="stroke-width:1.55" d="M705.3 1435.7 L709.6 1433.5 L724.9 1441.1 L724.9 1456.4 L711.8 1452.0 L705.3 1440.1 Z"/>
<ellipse class="m" style="stroke-width:1.55" cx="721.6" cy="1446.6" rx="3.0" ry="4.8" transform="rotate(0 721.6 1446.6)"/>
<ellipse class="t"  cx="721.6" cy="1446.6" rx="1.5" ry="2.4" transform="rotate(0 721.6 1446.6)"/>
<ellipse class="w"  cx="707.0" cy="1437.2" rx="1.7" ry="2.2" transform="rotate(0 707.0 1437.2)"/>
<path class="w" style="stroke-width:1.55" d="M768.4 1397.6 L768.4 1441.1 L772.8 1445.5 L785.9 1447.7 L790.2 1443.3 L790.2 1398.7"/>
<path class="t"  d="M773.9 1399.8 L773.9 1445.5"/>
<path class="t"  d="M768.4 1397.6 C770.2 1398.3,775.7 1401.8,779.3 1402.0 C783.0 1402.1,788.4 1399.2,790.2 1398.7"/>
<path class="w" style="stroke-width:1.55" d="M768.4 1384.5 L771.0 1397.6 L788.0 1399.8 L790.2 1388.9"/>
<path class="w" style="stroke-width:1.55" d="M727.1 1360.6 L758.6 1373.6 L758.6 1491.2 L733.6 1480.3 L727.1 1474.9 Z"/>
<path class="w" style="stroke-width:1.55" d="M758.6 1373.6 L765.2 1375.8 L765.2 1489.1 L758.6 1491.2 Z"/>
<path class="t"  d="M765.2 1489.1 L770.6 1486.9 L770.6 1447.7"/>
<ellipse class="t"  cx="734.7" cy="1366.0" rx="1.1" ry="1.3" transform="rotate(0 734.7 1366.0)"/>
<ellipse class="t"  cx="749.9" cy="1371.5" rx="1.1" ry="1.3" transform="rotate(0 749.9 1371.5)"/>
<ellipse class="t"  cx="734.7" cy="1384.5" rx="1.1" ry="1.3" transform="rotate(0 734.7 1384.5)"/>
<ellipse class="t"  cx="749.9" cy="1390.0" rx="1.1" ry="1.3" transform="rotate(0 749.9 1390.0)"/>
<path class="t"  d="M764.1 1428.1 L766.3 1423.7 L766.3 1432.4"/>
<path class="t"  d="M765.2 1469.5 L768.4 1467.3 L768.4 1476.0"/>
<path class="w" style="stroke-width:1.55" d="M703.1 1347.5 L728.1 1337.7 L791.3 1361.7 L791.3 1366.0 L771.7 1374.7 L704.2 1351.9 Z"/>
<path class="t"  d="M703.1 1347.5 L711.8 1344.2 L775.0 1369.3 L771.7 1374.7"/>
<path class="t"  d="M775.0 1369.3 L791.3 1362.8"/>
<ellipse class="t"  cx="728.1" cy="1343.2" rx="1.1" ry="0.9" transform="rotate(0 728.1 1343.2)"/>
<ellipse class="t"  cx="742.3" cy="1363.8" rx="1.1" ry="0.9" transform="rotate(0 742.3 1363.8)"/>
<ellipse class="t"  cx="776.1" cy="1363.2" rx="1.1" ry="0.9" transform="rotate(0 776.1 1363.2)"/>
<ellipse class="t"  cx="782.6" cy="1372.6" rx="1.1" ry="0.9" transform="rotate(0 782.6 1372.6)"/>
<path class="w" style="stroke-width:1.55" d="M704.2 1351.9 L705.3 1364.9 L709.6 1367.1 L709.6 1355.1 Z"/>
<path class="w" style="stroke-width:1.55" d="M777.1 1380.2 L798.9 1371.5 L801.1 1373.6 L800.0 1391.1 L781.5 1398.7 L777.1 1395.4 Z"/>
<path class="t"  d="M777.1 1380.2 L781.5 1382.4 L801.1 1374.1"/>
<path class="t"  d="M781.5 1382.4 L781.5 1398.7"/>
<ellipse class="t"  cx="788.0" cy="1387.8" rx="1.3" ry="1.7" transform="rotate(0 788.0 1387.8)"/>
<ellipse class="t"  cx="769.5" cy="1381.3" rx="1.3" ry="1.7" transform="rotate(0 769.5 1381.3)"/>
<path class="w" style="stroke-width:1.55" d="M733.6 1325.7 L747.7 1319.2 L769.5 1329.0 L770.6 1353.0 L756.5 1359.5 L733.6 1349.7 Z"/>
<path class="t" style="stroke-width:1.55" d="M733.6 1325.7 L756.5 1335.5 L769.5 1329.0"/>
<path class="t" style="stroke-width:1.55" d="M756.5 1335.5 L756.5 1359.5"/>
<path class="t"  d="M758.6 1337.1 L767.8 1332.3 L768.4 1351.9"/>
<ellipse class="t"  cx="737.9" cy="1334.4" rx="1.1" ry="1.3" transform="rotate(0 737.9 1334.4)"/>
<ellipse class="t"  cx="751.0" cy="1339.9" rx="1.1" ry="1.3" transform="rotate(0 751.0 1339.9)"/>
<ellipse class="t"  cx="737.9" cy="1345.3" rx="1.1" ry="1.3" transform="rotate(0 737.9 1345.3)"/>
<ellipse class="t"  cx="751.0" cy="1350.8" rx="1.1" ry="1.3" transform="rotate(0 751.0 1350.8)"/>
<ellipse class="t"  cx="764.1" cy="1336.6" rx="1.1" ry="1.3" transform="rotate(0 764.1 1336.6)"/>
<ellipse class="t"  cx="764.1" cy="1345.3" rx="1.1" ry="1.3" transform="rotate(0 764.1 1345.3)"/>
<path class="w" style="stroke-width:1.55" d="M794.6 1440.1 L804.4 1445.5 L804.4 1493.4 L798.9 1494.5 L772.8 1471.6 Z"/>
<path class="t"  d="M794.6 1440.1 L798.9 1445.5 L798.9 1494.5"/>
<path class="t"  d="M798.9 1445.5 L804.4 1445.5"/>
<path class="t"  d="M777.1 1469.5 L795.7 1447.7"/>
<path class="t"  d="M781.5 1476.0 L798.9 1489.1"/>
<ellipse class="w" style="stroke-width:1.55" cx="784.8" cy="1471.6" rx="3.9" ry="5.2" transform="rotate(0 784.8 1471.6)"/>
<ellipse class="w"  cx="788.0" cy="1472.7" rx="2.2" ry="3.0" transform="rotate(0 788.0 1472.7)"/>
<path class="w"  d="M788.0 1469.9 L794.6 1471.2 L795.7 1473.8 L794.1 1475.6 L788.0 1475.1 Z"/>
<ellipse class="t"  cx="798.5" cy="1447.7" rx="1.3" ry="2.0" transform="rotate(0 798.5 1447.7)"/>
<ellipse class="w" style="stroke-width:1.8" cx="839.2" cy="1350.8" rx="5.4" ry="6.5" transform="rotate(0 839.2 1350.8)"/>
<ellipse class="t"  cx="838.1" cy="1351.4" rx="2.2" ry="2.8" transform="rotate(0 838.1 1351.4)"/>
<path class="w" style="stroke-width:1.8" d="M901.3 1328.2 L897.5 1331.4 L893.1 1329.3 L892.5 1324.1 L896.3 1320.9 L900.7 1323.0 Z"/>
<ellipse class="m" style="stroke-width:1.55" cx="896.9" cy="1326.2" rx="2.4" ry="2.6" transform="rotate(0 896.9 1326.2)"/>
</g>
<g id="p2_8">
<path class="w" style="stroke-width:1.55" d="M1735.5 955.2 L1742.5 955.2 L1742.5 983.3 L1735.5 983.3 Z"/>
<path class="w" style="stroke-width:1.55" d="M1732.7 949.3 L1735.5 947.2 L1743.9 947.2 L1746.7 949.3 L1746.7 953.5 L1743.9 955.6 L1735.5 955.6 L1732.7 953.5 Z"/>
<path class="t"  d="M1732.7 950.9 L1746.7 950.9"/>
<path class="m" style="stroke-width:1.8" d="M1730.3 1077.0 C1731.5 1076.0,1735.0 1072.6,1737.3 1071.2 C1739.7 1069.7,1740.1 1068.3,1744.4 1068.1 C1748.7 1067.9,1756.9 1067.7,1763.1 1070.0 C1769.4 1072.3,1778.2 1077.8,1781.9 1081.7 C1785.6 1085.6,1784.8 1091.5,1785.4 1093.4"/>
<path class="t"  d="M1749.1 1070.0 C1751.4 1070.6,1758.6 1071.6,1763.1 1073.5 C1767.6 1075.5,1773.9 1080.3,1776.0 1081.7"/>
<path class="w" style="stroke-width:2.2" d="M1684.6 1101.6 L1717.4 1079.8 L1728.0 1076.6 L1737.3 1079.4 L1758.4 1088.7 L1763.1 1107.5 L1758.4 1111.0 L1731.5 1122.0 Z"/>
<path class="w" style="stroke-width:1.55" d="M1684.6 1101.6 L1684.6 1107.5 L1730.3 1128.1 L1731.5 1122.0 Z"/>
<path class="t" style="stroke-width:1.55" d="M1730.3 1128.1 L1756.1 1116.9 L1758.4 1111.0"/>
<path class="t" style="stroke-width:1.55" d="M1735.0 1119.2 L1740.9 1111.0 L1753.7 1116.4"/>
<ellipse class="t"  cx="1742.0" cy="1115.0" rx="2.3" ry="1.6" transform="rotate(0 1742.0 1115.0)"/>
<path class="t"  d="M1717.4 1079.8 C1719.6 1080.1,1725.0 1080.2,1730.3 1081.7 C1735.6 1083.2,1745.9 1087.6,1749.1 1088.7"/>
<ellipse class="w" style="stroke-width:2.4" cx="1752.6" cy="1100.9" rx="10.3" ry="15.5" transform="rotate(-12 1752.6 1100.9)"/>
<ellipse class="t"  cx="1754.9" cy="1100.0" rx="9.4" ry="14.5" transform="rotate(-12 1754.9 1100.0)"/>
<ellipse class="w" style="stroke-width:2.4" cx="1774.4" cy="1093.9" rx="10.3" ry="14.1" transform="rotate(-12 1774.4 1093.9)"/>
<ellipse class="t"  cx="1776.5" cy="1093.0" rx="9.4" ry="13.1" transform="rotate(-12 1776.5 1093.0)"/>
<path class="w" style="stroke-width:1.7" d="M1755.2 1103.5 L1751.4 1107.7 L1746.4 1105.8 L1745.3 1099.8 L1749.1 1095.6 L1754.0 1097.4 Z"/>
<ellipse class="t"  cx="1750.2" cy="1101.6" rx="2.6" ry="3.0" transform="rotate(0 1750.2 1101.6)"/>
<path class="w" style="stroke-width:1.7" d="M1775.8 1094.8 L1772.9 1098.1 L1769.1 1096.7 L1768.2 1092.0 L1771.1 1088.8 L1774.9 1090.2 Z"/>
<path class="w" style="stroke-width:1.55" d="M1679.9 1179.7 L1705.7 1167.2 L1754.9 1188.3 L1728.0 1201.2 L1723.3 1198.9 L1742.0 1190.0 L1739.7 1189.0 L1719.8 1197.7 L1689.3 1184.4 L1708.0 1175.4 L1705.7 1174.3 L1684.6 1182.5 Z"/>
<path class="t"  d="M1679.9 1179.7 L1680.4 1181.5 L1684.6 1184.1"/>
<path class="t"  d="M1689.3 1184.4 L1689.8 1186.2 L1719.1 1199.4 L1719.8 1197.7"/>
<path class="t"  d="M1723.3 1198.9 L1728.0 1203.1 L1754.9 1190.2 L1754.9 1188.3"/>
<path class="t"  d="M1685.8 1179.0 L1706.9 1170.3"/>
<path class="t"  d="M1724.4 1194.7 L1740.9 1187.6"/>
<path class="w" style="stroke-width:1.55" d="M1679.9 1249.5 L1705.7 1237.1 L1754.9 1258.2 L1728.0 1271.1 L1723.3 1268.7 L1742.0 1259.8 L1739.7 1258.9 L1719.8 1267.6 L1689.3 1254.2 L1708.0 1245.3 L1705.7 1244.1 L1684.6 1252.3 Z"/>
<path class="t"  d="M1679.9 1249.5 L1680.4 1251.4 L1684.6 1254.0"/>
<path class="t"  d="M1689.3 1254.2 L1689.8 1256.1 L1719.1 1269.2 L1719.8 1267.6"/>
<path class="t"  d="M1723.3 1268.7 L1728.0 1272.9 L1754.9 1260.1 L1754.9 1258.2"/>
<path class="t"  d="M1685.8 1248.8 L1706.9 1240.1"/>
<path class="t"  d="M1724.4 1264.5 L1740.9 1257.5"/>
<path class="w" style="stroke-width:1.8" d="M1729.0 1609.0 L1734.5 1605.3 L1745.3 1605.9 L1749.9 1610.9 L1749.3 1617.7 L1743.7 1621.4 L1733.0 1620.7 L1728.3 1616.1 Z"/>
<ellipse class="t" style="stroke-width:1.55" cx="1739.4" cy="1610.9" rx="9.2" ry="3.7" transform="rotate(0 1739.4 1610.9)"/>
<ellipse class="t"  cx="1739.4" cy="1610.9" rx="4.3" ry="1.8" transform="rotate(0 1739.4 1610.9)"/>
<path class="t"  d="M1733.0 1615.5 L1733.6 1620.7"/>
<path class="t"  d="M1744.4 1615.8 L1744.4 1621.4"/>
<path class="w" style="stroke-width:1.55" d="M2057.0 801.1 L2128.5 770.2 L2129.2 812.8 L2057.6 844.2 Z"/>
<path class="t"  d="M2059.2 801.7 L2126.7 772.7 L2127.1 811.5 L2059.7 841.8 Z"/>
<path class="m" style="stroke-width:1.55" d="M2059.7 806.0 C2060.2 806.4,2061.4 808.0,2062.6 808.2 C2063.7 808.4,2056.2 811.7,2066.9 807.2 C2077.6 802.8,2116.7 785.8,2126.7 781.6"/>
<path class="t"  d="M2060.7 809.4 L2126.7 783.8"/>
<path class="m" style="stroke-width:1.55" d="M2129.2 780.7 L2132.2 781.1 L2131.6 782.6"/>
<path class="m" style="stroke-width:1.55" d="M2059.7 815.2 C2060.2 815.6,2061.4 817.2,2062.6 817.5 C2063.7 817.7,2056.2 820.9,2066.9 816.5 C2077.6 812.0,2116.7 795.1,2126.7 790.8"/>
<path class="t"  d="M2060.7 818.7 L2126.7 793.0"/>
<path class="m" style="stroke-width:1.55" d="M2129.2 790.0 L2132.2 790.3 L2131.6 791.8"/>
<path class="m" style="stroke-width:1.55" d="M2059.7 823.9 C2060.2 824.2,2061.4 825.9,2062.6 826.1 C2063.7 826.3,2056.2 829.5,2066.9 825.1 C2077.6 820.7,2116.7 803.7,2126.7 799.4"/>
<path class="t"  d="M2060.7 827.3 L2126.7 801.7"/>
<path class="m" style="stroke-width:1.55" d="M2129.2 798.6 L2132.2 799.0 L2131.6 800.4"/>
<path class="m" style="stroke-width:1.55" d="M2059.7 832.5 C2060.2 832.9,2061.4 834.5,2062.6 834.7 C2063.7 834.9,2056.2 838.2,2066.9 833.7 C2077.6 829.3,2116.7 812.4,2126.7 808.1"/>
<path class="t"  d="M2060.7 836.0 L2126.7 810.3"/>
<path class="m" style="stroke-width:1.55" d="M2129.2 807.2 L2132.2 807.6 L2131.6 809.1"/>
<path class="t"  d="M2057.6 843.0 L2128.5 812.2"/>
<path class="w" style="stroke-width:1.55" d="M2190.8 799.4 L2192.1 798.0 L2208.1 805.4 L2206.9 810.9 L2190.2 803.1 Z"/>
<ellipse class="w" style="stroke-width:1.8" cx="2211.8" cy="809.9" rx="4.2" ry="5.2" transform="rotate(0 2211.8 809.9)"/>
<ellipse class="t"  cx="2212.4" cy="809.9" rx="3.0" ry="3.9" transform="rotate(0 2212.4 809.9)"/>
<path class="w" style="stroke-width:1.4" d="M553.5 413 L562.5 413 L562.5 443.5 L553.5 443.5 Z"/>
<path class="w" style="stroke-width:1.5" d="M551.5 406.5 L554.5 404 L561.5 404 L564.5 406.5 L564.5 411 L561.5 413.5 L554.5 413.5 L551.5 411 Z"/>
<path class="t" d="M551.5 408.5 L564.5 408.5"/>
<path class="w" style="stroke-width:1.5" d="M769.5 678 L772.5 675.5 L780 675.5 L783 678 L783 683.5 L780 686 L772.5 686 L769.5 683.5 Z"/>
<ellipse class="t" cx="776.2" cy="678.5" rx="4.2" ry="2"/>
<circle cx="1256.5" cy="1252.6" r="4.3" fill="#fff" stroke="#111" stroke-width="2"/><circle cx="1256.5" cy="1252.6" r="1.8" fill="none" stroke="#111" stroke-width="1"/>
</g>
<g id="p17_24">
<path class="m" style="stroke-width:2.3" d="M980.8 1491.1 C983.4 1490.0,990.8 1484.6,996.8 1484.4 C1002.8 1484.3,1010.8 1487.9,1016.5 1490.1 C1022.3 1492.3,1027.2 1494.5,1031.3 1497.5 C1035.4 1500.5,1039.1 1503.7,1041.2 1507.9 C1043.3 1512.1,1043.7 1520.2,1044.2 1522.7"/>
<path class="t"  d="M988.2 1493.1 C990.2 1492.3,995.8 1488.4,1000.5 1488.6 C1005.2 1488.8,1012.0 1492.3,1016.5 1494.3 C1021.1 1496.3,1025.8 1499.4,1027.6 1500.5"/>
<ellipse class="w" style="stroke-width:2.3" cx="1029.4" cy="1513.3" rx="12.3" ry="16.3" transform="rotate(-15 1029.4 1513.3)"/>
<ellipse class="t"  cx="1031.3" cy="1512.3" rx="11.1" ry="14.8" transform="rotate(-15 1031.3 1512.3)"/>
<ellipse class="t" style="stroke-width:1.35" cx="1028.4" cy="1511.6" rx="4.2" ry="4.9" transform="rotate(0 1028.4 1511.6)"/>
<path class="t"  d="M1028.4 1511.6 L1033.8 1514.0"/>
<path class="w" style="stroke-width:2.3" d="M929.0 1526.4 L966.0 1497.5 L978.3 1493.1 L991.9 1498.0 L1006.7 1507.9 L1011.6 1537.5 L982.0 1547.3 Z"/>
<path class="w" style="stroke-width:1.35" d="M929.0 1526.4 L929.0 1532.5 L980.8 1553.7 L982.0 1547.3 Z"/>
<path class="t" style="stroke-width:1.35" d="M980.8 1553.7 L1009.1 1542.9 L1011.6 1537.5"/>
<path class="t"  d="M966.0 1497.5 C968.2 1498.0,974.4 1498.3,979.5 1500.5 C984.7 1502.6,993.9 1508.7,996.8 1510.3"/>
<path class="t" style="stroke-width:1.35" d="M983.2 1544.9 L990.6 1535.0 L1006.7 1540.4"/>
<ellipse class="t"  cx="991.9" cy="1540.4" rx="2.5" ry="1.7" transform="rotate(0 991.9 1540.4)"/>
<ellipse class="w" style="stroke-width:2.3" cx="1008.6" cy="1520.7" rx="12.3" ry="17.8" transform="rotate(-15 1008.6 1520.7)"/>
<ellipse class="t"  cx="1010.6" cy="1519.7" rx="11.1" ry="16.3" transform="rotate(-15 1010.6 1519.7)"/>
<path class="w" style="stroke-width:2.3" d="M995.6 1510.3 L1003.0 1506.6 L1011.6 1512.8 L1012.8 1526.4 L1005.4 1530.1 L996.8 1522.7 Z"/>
<path class="t"  d="M998.8 1512.8 L1004.2 1510.3 L1004.2 1526.4"/>
<path class="t"  d="M1003.0 1547.3 L1006.7 1537.5 L1016.5 1534.5 L1019.0 1520.2"/>
<path class="w" style="stroke-width:1.35" d="M1051.1 1533.0 L1070.3 1524.1 L1077.0 1528.8 L1080.2 1537.5 L1078.2 1544.9 L1057.2 1555.2 Z"/>
<ellipse class="w" style="stroke-width:2.3" cx="1052.8" cy="1544.1" rx="8.9" ry="11.6" transform="rotate(-10 1052.8 1544.1)"/>
<path class="t" style="stroke-width:1.35" d="M1057.7 1544.1 L1055.3 1549.5 L1050.3 1549.5 L1047.9 1544.1 L1050.3 1538.8 L1055.3 1538.8 Z"/>
<path class="w" style="stroke-width:2.3" d="M1115.0 1482.2 L1108.5 1489.6 L1098.8 1487.6 L1095.7 1478.3 L1102.2 1470.9 L1111.9 1472.8 Z"/>
<ellipse class="m" style="stroke-width:1.35" cx="1103.4" cy="1481.2" rx="4.9" ry="5.4" transform="rotate(0 1103.4 1481.2)"/>
<ellipse class="t"  cx="1103.4" cy="1481.2" rx="2.5" ry="2.7" transform="rotate(0 1103.4 1481.2)"/>
<path class="m" style="stroke-width:1.35" d="M1106.6 1472.1 L1115.2 1474.6 L1116.4 1483.2 L1111.5 1488.1"/>
<path class="t"  d="M1109.8 1478.3 L1115.2 1480.2"/>
<path class="t"  d="M1107.8 1484.4 L1112.7 1486.9"/>
<ellipse class="w" style="stroke-width:2.3" cx="1062.9" cy="1498.5" rx="5.9" ry="8.9" transform="rotate(0 1062.9 1498.5)"/>
<ellipse class="m" style="stroke-width:1.35" cx="1061.4" cy="1497.5" rx="2.7" ry="3.9" transform="rotate(0 1061.4 1497.5)"/>
<path class="m" style="stroke-width:1.35" d="M1057.2 1495.5 L1062.2 1498.0"/>
<path class="w" style="stroke-width:1.35" d="M888.3 1568.3 L917.9 1556.0 L924.0 1557.2 L924.8 1562.6 L920.3 1565.1 L889.5 1580.6 Z"/>
<path class="t"  d="M914.2 1557.2 L916.6 1566.6"/>
<path class="t"  d="M917.9 1556.0 L920.3 1565.1"/>
<path class="w" style="stroke-width:2.3" d="M875.9 1567.1 L883.3 1565.8 L889.5 1572.0 L888.3 1581.9 L878.4 1580.6 L875.4 1574.5 Z"/>
<ellipse class="t"  cx="882.1" cy="1574.0" rx="1.7" ry="2.2" transform="rotate(0 882.1 1574.0)"/>
<ellipse class="w" style="stroke-width:2.2" cx="845.1" cy="1589.3" rx="3.7" ry="4.2" transform="rotate(0 845.1 1589.3)"/>
<ellipse class="m" style="stroke-width:1.35" cx="845.1" cy="1589.3" rx="1.5" ry="1.7" transform="rotate(0 845.1 1589.3)"/>
<ellipse class="w" style="stroke-width:2.3" cx="803.9" cy="1607.8" rx="2.0" ry="2.0" transform="rotate(0 803.9 1607.8)"/>
<path class="t" style="stroke-width:0.9" d="M916.9 1605.3 L916.9 1628.7 L918.9 1628.7 L918.9 1605.3 Z"/>
</g>
<g id="wm">
<text x="1019.5" y="928.6" font-family="Liberation Sans,sans-serif" font-size="80" fill="#fff" stroke="#000" stroke-width="3.2" stroke-linejoin="round" paint-order="stroke fill" textLength="516" lengthAdjust="spacingAndGlyphs">woooyeah.com</text>
<text x="1043.4" y="914.8" font-family="Liberation Sans,sans-serif" font-size="45" fill="#1f74c4" textLength="472.4" lengthAdjust="spacingAndGlyphs">www.yongyuanzzd.com</text>
<text x="2527" y="1785.7" font-family="Liberation Sans,sans-serif" font-size="40" fill="#231815" text-anchor="end" textLength="339" lengthAdjust="spacingAndGlyphs">L1302-2713011773</text>
</g>
<g id="longlines" fill="none" stroke="#000" stroke-linecap="butt">
<path d="M988.0 321.4 L1454.5 519.8" stroke-width="2.0"/>
<path d="M1779.5 625.8 L2120.5 770.2" stroke-width="1.8"/>
<path d="M2128.5 773.9 L2190.8 801.0" stroke-width="1.8"/>
<path d="M1672.5 719.0 L1672.5 1302.0" stroke-width="2.4"/>
<path d="M1739.6 985.6 L1739.6 1077.0" stroke-width="1.9"/>
<path d="M1739.6 1126.2 L1739.6 1187.2" stroke-width="1.9"/>
<path d="M1739.6 1194.2 L1739.6 1257.5" stroke-width="1.9"/>
<path d="M1739.6 1266.9 L1739.6 1324.7" stroke-width="1.9"/>
<path d="M1739.0 1470.6 L1739.0 1603.8" stroke-width="2.6"/>
<path d="M1624.4 924.4 L1606.4 932.1" stroke-width="2.5"/>
<path d="M1595.6 936.7 L1471.5 989.5" stroke-width="2.5"/>
<path d="M1515.9 1011.2 L1480.3 1026.0" stroke-width="2.5"/>
<path d="M1467.5 1031.9 L1392.6 1064.5" stroke-width="2.5"/>
<path d="M1535.6 1137.4 L1488.2 1158.2" stroke-width="2.8"/>
<path d="M1463.6 1167.0 L1422.1 1183.8" stroke-width="2.5"/>
<path d="M1261.9 1251.2 L1350.6 1212.6" stroke-width="2.5"/>
<path d="M1521.4 906.0 L1521.4 918.5" stroke-width="2.2"/>
<path d="M1521.4 944.0 L1521.4 1002.3" stroke-width="2.4"/>
<path d="M488.8 1499.5 L565.0 1467.0" stroke-width="2.5"/>
<path d="M575.7 1464.0 L655.2 1431.4" stroke-width="2.5"/>
<path d="M663.5 1427.0 L746.7 1392.2" stroke-width="2.5"/>
<path d="M673.9 1501.7 L795.0 1450.7" stroke-width="2.5"/>
<path d="M806.2 1446.2 L1099.0 1319.7" stroke-width="2.5"/>
<path d="M799.5 1368.5 L832.8 1354.3" stroke-width="2.5"/>
<path d="M847.4 1347.7 L890.5 1328.6" stroke-width="2.5"/>
<path d="M545.0 1358.0 L545.0 1466.0" stroke-width="1.8"/>
<path d="M992.3 1552.7 L992.3 1631.0 L1450.4 1436.4" stroke-width="2.5"/>
<path d="M558.0 446.0 L558.0 485.0 L774.6 576.0 L774.6 614.5" stroke-width="2.7"/>
<path d="M775.5 630.0 L775.5 674.0" stroke-width="2.9"/>
</g>
<g id="lines2" fill="none" stroke="#000" stroke-linecap="butt">
<path d="M806.9 1606.5 L841.4 1591.7" stroke-width="2.5"/>
<path d="M848.8 1588.0 L874.7 1576.9" stroke-width="2.5"/>
<path d="M924.8 1556.7 L1006.7 1521.4" stroke-width="2.5"/>
<path d="M1025.2 1517.7 L1053.5 1528.8" stroke-width="2.5"/>
<path d="M1043.7 1506.6 L1054.8 1501.7" stroke-width="2.5"/>
<path d="M1069.6 1495.5 L1097.9 1483.2" stroke-width="2.5"/>
<path d="M917.9 1567.1 L917.9 1604.1" stroke-width="1.6"/>
</g>
<g id="labels">
<text class="n" x="1705.6" y="157.3">1</text>
<text class="n" x="2210.4" y="905.8">2</text>
<text class="n" x="2102.5" y="918.2">3</text>
<text class="n" x="1822.0" y="964.8">4</text>
<text class="n" x="1861.0" y="1105.6">5</text>
<text class="n" x="1830.0" y="1201.4">6</text>
<text class="n" x="1830.0" y="1271.1">7</text>
<text class="n" x="1824.6" y="1626.5">8</text>
<text class="n" x="1643.6" y="845.6">9</text>
<text class="n" x="1602.3" y="1081.2">10</text>
<text class="n" x="1643.7" y="1139.1">11</text>
<text class="n" x="1520.7" y="851.3">12</text>
<text class="n" x="1541.5" y="1094.6">13</text>
<text class="n" x="1565.5" y="1181.8">14</text>
<text class="n" x="1388.0" y="1161.6">15</text>
<text class="n" x="1170.8" y="1262.1">16</text>
<text class="n" x="1162.5" y="1547.6">17</text>
<text class="n" x="1105.0" y="1402.3">18</text>
<text class="n" x="1061.0" y="1422.1">19</text>
<text class="n" x="998.5" y="1417.1">20</text>
<text class="n" x="916.7" y="1719.6">21</text>
<text class="n" x="886.4" y="1671.0">22</text>
<text class="n" x="844.0" y="1682.6">23</text>
<text class="n" x="803.2" y="1698.9">24</text>
<text class="n" x="761.8" y="1579.9">25</text>
<text class="n" x="643.3" y="1611.8">26</text>
<text class="n" x="455.5" y="1611.0">27</text>
<text class="n" x="460.0" y="1328.2">28</text>
<text class="n" x="638.8" y="1331.3">29</text>
<text class="n" x="837.2" y="1275.8">30</text>
<text class="n" x="895.7" y="1253.6">31</text>
<text class="n" x="684.0" y="690.6">32</text>
<text class="n" x="468.0" y="422.3">33</text>
<text class="n" x="523.0" y="240.3">34</text>
</g>
<g id="leaders" class="k">
<path d="M1705.6 172.4L1705.6 223"/>
<path d="M2210.6 818.3L2210.6 867"/>
<path d="M2102.6 830L2102.6 878.8"/>
<path d="M1751 953.2L1800.6 953.2"/>
<path d="M1788.7 1094L1839.7 1094"/>
<path d="M1755.4 1189.8L1808.6 1189.8"/>
<path d="M1755.4 1259.5L1808.6 1259.5"/>
<path d="M1750.4 1614.9L1801.5 1614.9"/>
<path d="M1644.5 859.7L1644.5 910.7"/>
<path d="M1601.4 995L1601.4 1041.7"/>
<path d="M1561.5 1127.3L1613.5 1127.3"/>
<path d="M1520.7 864L1520.7 906"/>
<path d="M1542.9 1006L1542.9 1056.3"/>
<path d="M1481.7 1169.5L1532.8 1169.5"/>
<path d="M1386.3 1075L1386.3 1121.8"/>
<path d="M1202 1251L1251.7 1251"/>
<path d="M1080.6 1536.3L1130.8 1536.3"/>
<path d="M1105.5 1417L1105.5 1470.6"/>
<path d="M1061.2 1435L1061.2 1488.4"/>
<path d="M998.8 1430.7L998.8 1481.7"/>
<path d="M918 1632.6L918 1681.5"/>
<path d="M887 1583.8L887 1632.6"/>
<path d="M844.8 1595L844.8 1643.7"/>
<path d="M803 1610.4L803 1659.3"/>
<path d="M761.8 1492.8L761.8 1541.6"/>
<path d="M643.3 1523.9L643.3 1573.6"/>
<path d="M456.4 1521.7L456.4 1571.4"/>
<path d="M493.2 1316.6L542 1316.6"/>
<path d="M639.7 1345.4L639.7 1395"/>
<path d="M837.2 1291.7L837.2 1341.9"/>
<path d="M895.8 1268.7L895.8 1319.7"/>
<path d="M718 679L768 679"/>
<path d="M502 410.7L551 410.7"/>
<path d="M555 228.7L604 228.7"/>
</g>
</svg>
</body></html>
